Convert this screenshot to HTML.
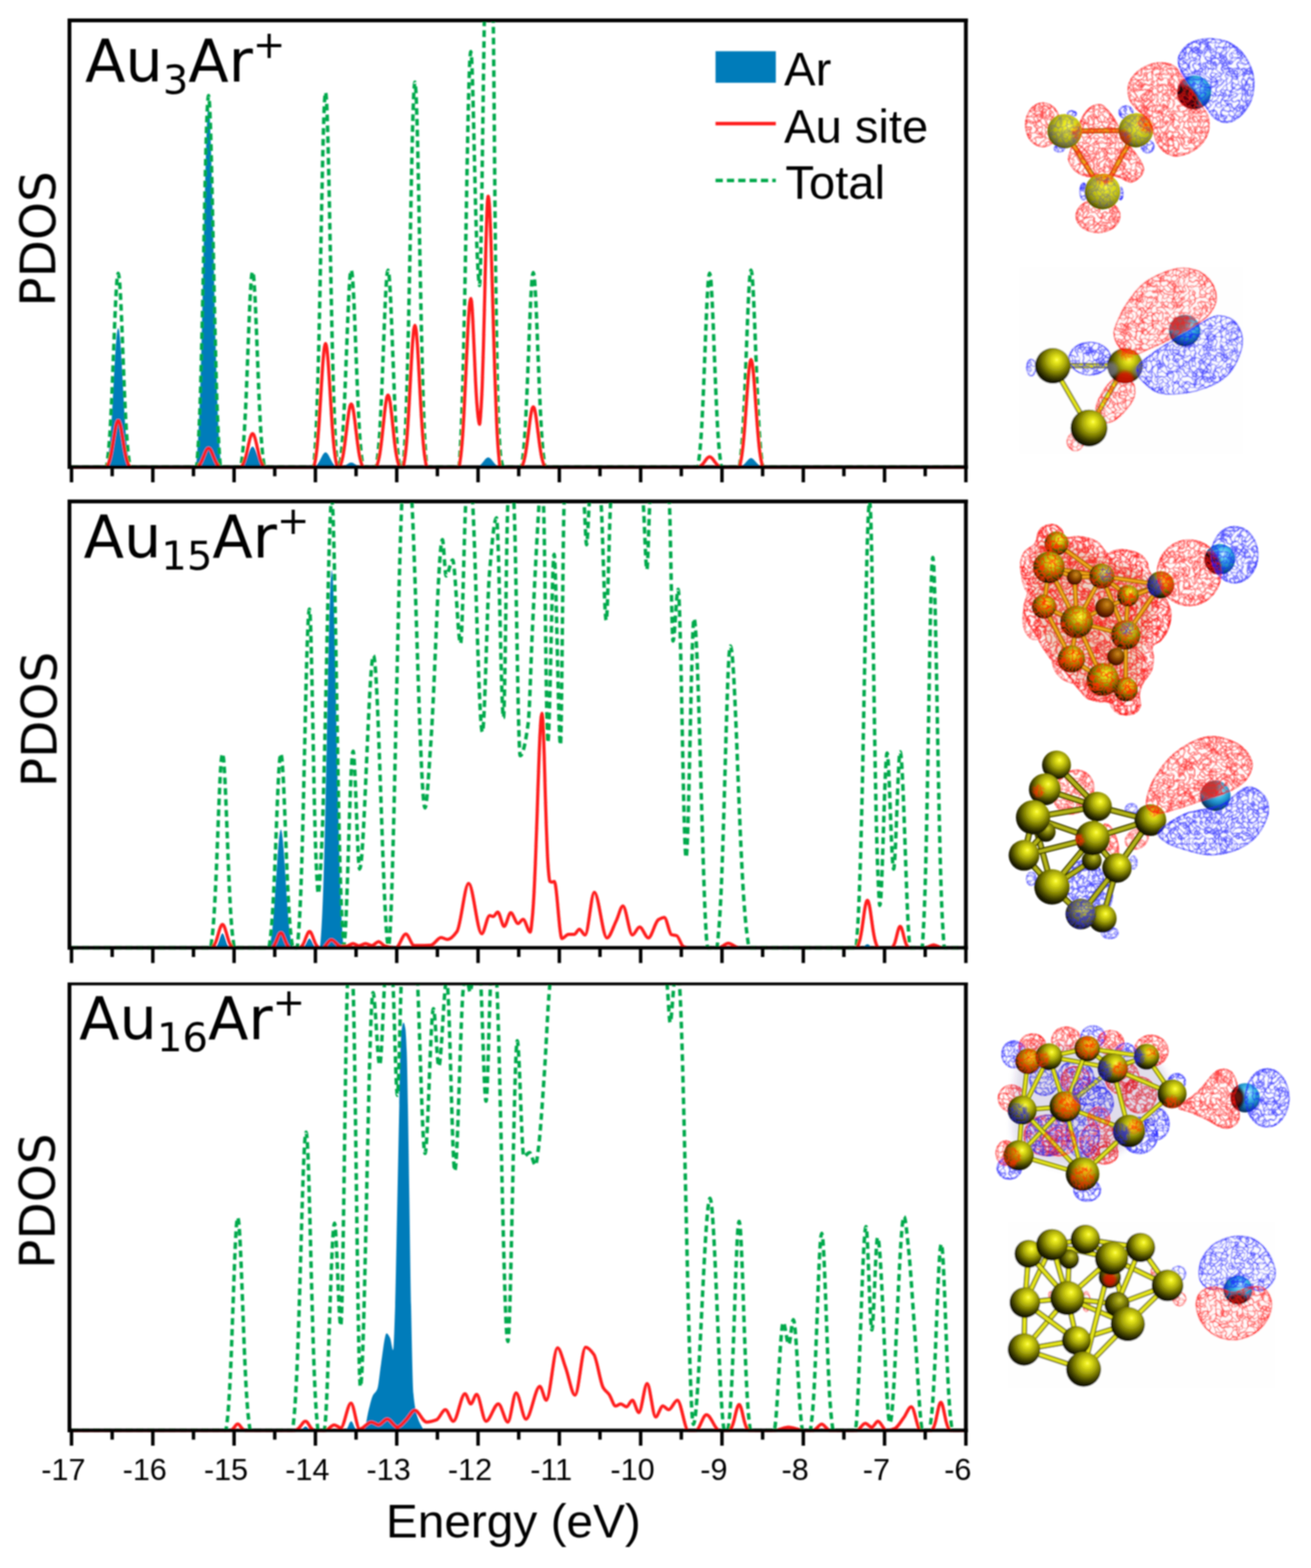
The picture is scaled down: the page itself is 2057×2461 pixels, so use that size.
<!DOCTYPE html>
<html lang="en"><head><meta charset="utf-8"><title>PDOS of AunAr+ clusters</title>
<style>
html,body{margin:0;padding:0;background:#fff}
svg{display:block}
text{font-family:"Liberation Sans",sans-serif;fill:#000}
.ttl{font-family:"DejaVu Sans","Liberation Sans",sans-serif;font-size:92.5px}
.sub{font-size:63px}
.sup{font-size:61px}
.yl{font-family:"DejaVu Sans","Liberation Sans",sans-serif;font-size:76px;text-anchor:middle}
.tk{font-size:48px;text-anchor:middle}
.xl{font-size:75px;text-anchor:middle}
.lg{font-size:74px}
</style></head><body>
<svg width="2057" height="2461" viewBox="0 0 2057 2461">
<defs><filter id="soft" x="-2%" y="-2%" width="104%" height="104%"><feGaussianBlur stdDeviation="1.1"/></filter></defs>
<rect width="2057" height="2461" fill="#fff"/>
<g filter="url(#soft)">
<clipPath id="c1"><rect x="109" y="32" width="1406.5" height="705"/></clipPath>
<g clip-path="url(#c1)">
<path d="M112.2,733L166.5,733C167.4,733 168.4,726.3 169.3,721.1C170.3,715.8 171.2,707.3 172.2,697.6C173.2,687.9 174.1,673.9 175.1,659.5C176,645.1 177,626.3 177.9,609.3C178.7,595.6 179.4,580 180.2,567.5C180.9,555.1 181.7,542 182.5,533.7C183,527.5 183.6,521.1 184.2,518.7C184.6,516.9 185.1,515 185.5,515C185.9,515 186.4,516.9 186.8,518.7C187.4,521.1 188,527.5 188.5,533.7C189.3,542 190.1,555.1 190.8,567.5C191.6,580 192.3,595.6 193.1,609.3C194,626.3 195,645.1 195.9,659.5C196.9,673.9 197.8,687.9 198.8,697.6C199.8,707.3 200.7,715.8 201.7,721.1C202.6,726.3 203.6,733 204.5,733L307,733C308,733 309,715.7 310,702C311,688.3 312.1,666.2 313.1,641.1C314.1,616 315.1,579.7 316.1,542.2C317.1,504.7 318.1,456.1 319.1,411.8C319.9,376.3 320.7,335.7 321.5,303.4C322.4,271.1 323.2,237.1 324,215.6C324.6,199.4 325.2,182.8 325.8,176.6C326.3,171.9 326.7,167 327.2,167C327.7,167 328.1,171.9 328.6,176.6C329.2,182.8 329.8,199.4 330.4,215.6C331.2,237.1 332,271.1 332.9,303.4C333.7,335.7 334.5,376.3 335.3,411.8C336.3,456.1 337.3,504.7 338.3,542.2C339.3,579.7 340.3,616 341.3,641.1C342.3,666.2 343.4,688.3 344.4,702C345.4,715.7 346.4,733 347.4,733L377.3,733C378.2,733 379.2,732 380.2,731.2C381.1,730.5 382.1,729.2 383,727.8C383.9,726.4 384.9,724.3 385.9,722.2C386.8,720.1 387.8,717.3 388.7,714.8C389.5,712.8 390.2,710.5 391,708.7C391.7,706.9 392.5,705 393.3,703.7C393.8,702.8 394.4,701.9 395,701.5C395.4,701.3 395.9,701 396.3,701C396.7,701 397.2,701.3 397.6,701.5C398.2,701.9 398.8,702.8 399.3,703.7C400.1,705 400.9,706.9 401.6,708.7C402.4,710.5 403.1,712.8 403.9,714.8C404.9,717.3 405.8,720.1 406.8,722.2C407.7,724.3 408.7,726.4 409.6,727.8C410.6,729.2 411.5,730.5 412.4,731.2C413.4,732 414.4,733 415.3,733L491.8,733C492.8,733 493.7,732.3 494.7,731.7C495.6,731.2 496.6,730.3 497.5,729.3C498.4,728.2 499.4,726.8 500.4,725.2C501.3,723.7 502.2,721.7 503.2,719.9C504,718.5 504.7,716.9 505.5,715.5C506.2,714.2 507,712.8 507.8,712C508.3,711.3 508.9,710.6 509.5,710.4C509.9,710.2 510.4,710 510.8,710C511.2,710 511.7,710.2 512.1,710.4C512.7,710.6 513.3,711.3 513.8,712C514.6,712.8 515.4,714.2 516.1,715.5C516.9,716.9 517.6,718.5 518.4,719.9C519.4,721.7 520.3,723.7 521.2,725.2C522.2,726.8 523.1,728.2 524.1,729.3C525,730.3 526,731.2 526.9,731.7C527.9,732.3 528.8,733 529.8,733L534,733C534.9,733 535.7,732.8 536.6,732.6C537.4,732.4 538.3,732.2 539.1,731.9C540,731.6 540.8,731.1 541.7,730.6C542.6,730.2 543.4,729.6 544.3,729C544.9,728.6 545.6,728.1 546.3,727.7C547,727.3 547.7,726.9 548.4,726.6C548.9,726.4 549.4,726.2 549.9,726.1C550.3,726.1 550.7,726 551.1,726C551.5,726 551.9,726.1 552.3,726.1C552.8,726.2 553.3,726.4 553.8,726.6C554.5,726.9 555.2,727.3 555.8,727.7C556.5,728.1 557.2,728.6 557.9,729C558.7,729.6 559.5,730.2 560.4,730.6C561.2,731.1 562.1,731.6 562.9,731.9C563.8,732.2 564.6,732.4 565.5,732.6C566.3,732.8 567.2,733 568,733L747,733C748,733 748.9,732.5 749.9,732.2C750.8,731.8 751.8,731.2 752.7,730.6C753.6,729.9 754.6,728.9 755.5,727.9C756.5,726.9 757.4,725.7 758.4,724.5C759.2,723.5 759.9,722.5 760.7,721.6C761.4,720.8 762.2,719.9 763,719.3C763.5,718.9 764.1,718.4 764.7,718.3C765.1,718.1 765.6,718 766,718C766.4,718 766.9,718.1 767.3,718.3C767.9,718.4 768.5,718.9 769,719.3C769.8,719.9 770.6,720.8 771.3,721.6C772.1,722.5 772.8,723.5 773.6,724.5C774.6,725.7 775.5,726.9 776.5,727.9C777.4,728.9 778.4,729.9 779.3,730.6C780.2,731.2 781.2,731.8 782.1,732.2C783.1,732.5 784,733 785,733L1159.4,733C1160.4,733 1161.3,732.6 1162.2,732.2C1163.2,731.9 1164.2,731.3 1165.1,730.7C1166.1,730.1 1167,729.2 1168,728.3C1168.9,727.4 1169.9,726.2 1170.8,725.1C1171.6,724.2 1172.3,723.2 1173.1,722.4C1173.8,721.6 1174.6,720.7 1175.4,720.2C1175.9,719.8 1176.5,719.4 1177.1,719.2C1177.5,719.1 1178,719 1178.4,719C1178.8,719 1179.3,719.1 1179.7,719.2C1180.3,719.4 1180.9,719.8 1181.4,720.2C1182.2,720.7 1183,721.6 1183.7,722.4C1184.5,723.2 1185.2,724.2 1186,725.1C1187,726.2 1187.9,727.4 1188.9,728.3C1189.8,729.2 1190.8,730.1 1191.7,730.7C1192.7,731.3 1193.6,731.9 1194.6,732.2C1195.5,732.6 1196.5,733 1197.4,733L1515.5,733L1515.5,734 L112.2,734 Z" fill="#007cba"/>
<path d="M112.2,733L166.5,733C167.4,733 168.4,723.7 169.3,716.3C170.3,709 171.2,697.1 172.2,683.6C173.2,670.2 174.1,650.7 175.1,630.5C176,610.4 177,584.3 177.9,560.5C178.7,541.4 179.4,519.6 180.2,502.3C180.9,484.9 181.7,466.6 182.5,455.1C183,446.4 183.6,437.5 184.2,434.2C184.6,431.6 185.1,429 185.5,429C185.9,429 186.4,431.6 186.8,434.2C187.4,437.5 188,446.4 188.5,455.1C189.3,466.6 190.1,484.9 190.8,502.3C191.6,519.6 192.3,541.4 193.1,560.5C194,584.3 195,610.4 195.9,630.5C196.9,650.7 197.8,670.2 198.8,683.6C199.8,697.1 200.7,709 201.7,716.3C202.6,723.7 203.6,733 204.5,733L308,733C309,733 309.9,715.2 310.9,701.1C311.8,686.9 312.8,664.2 313.8,638.4C314.7,612.5 315.7,575.1 316.6,536.4C317.6,497.8 318.6,447.8 319.5,402.1C320.3,365.6 321.1,323.8 321.8,290.5C322.6,257.2 323.4,222.2 324.1,200C324.7,183.4 325.3,166.2 325.9,159.9C326.3,155 326.8,150 327.2,150C327.6,150 328.1,155 328.5,159.9C329.1,166.2 329.7,183.4 330.3,200C331,222.2 331.8,257.2 332.6,290.5C333.3,323.8 334.1,365.6 334.9,402.1C335.8,447.8 336.8,497.8 337.8,536.4C338.7,575.1 339.7,612.5 340.6,638.4C341.6,664.2 342.6,686.9 343.5,701.1C344.5,715.2 345.4,733 346.4,733L377.3,733C378.2,733 379.2,723.6 380.2,716.2C381.1,708.8 382.1,696.8 383,683.2C383.9,669.6 384.9,649.9 385.9,629.6C386.8,609.3 387.8,583 388.7,559C389.5,539.8 390.2,517.8 391,500.3C391.7,482.8 392.5,464.4 393.3,452.7C393.8,444 394.4,434.9 395,431.6C395.4,429 395.9,426.4 396.3,426.4C396.7,426.4 397.2,429 397.6,431.6C398.2,434.9 398.8,444 399.3,452.7C400.1,464.4 400.9,482.8 401.6,500.3C402.4,517.8 403.1,539.8 403.9,559C404.9,583 405.8,609.3 406.8,629.6C407.7,649.9 408.7,669.6 409.6,683.2C410.6,696.8 411.5,708.8 412.4,716.2C413.4,723.6 414.4,733 415.3,733L491.8,733C492.8,733 493.7,715 494.7,700.8C495.6,686.5 496.6,663.6 497.5,637.5C498.4,611.4 499.4,573.7 500.4,534.8C501.3,495.8 502.2,445.3 503.2,399.3C504,362.4 504.7,320.3 505.5,286.7C506.2,253.1 507,217.8 507.8,195.5C508.3,178.7 508.9,161.4 509.5,155C509.9,150 510.4,145 510.8,145C511.2,145 511.7,150 512.1,155C512.7,161.4 513.3,178.7 513.8,195.5C514.6,217.8 515.4,253.1 516.1,286.7C516.9,320.3 517.6,362.4 518.4,399.3C519.4,445.3 520.3,495.8 521.2,534.8C522.2,573.7 523.1,611.4 524.1,637.5C525,663.6 526,686.5 526.9,700.8C527.9,715 528.8,733 529.8,733L532.1,733C533.1,733 534,723.5 535,716.1C535.9,708.6 536.9,696.6 537.8,682.8C538.8,669.1 539.7,649.3 540.6,628.8C541.6,608.3 542.5,581.8 543.5,557.6C544.3,538.3 545,516.1 545.8,498.5C546.5,480.8 547.3,462.2 548.1,450.5C548.6,441.7 549.2,432.6 549.8,429.3C550.2,426.7 550.7,424 551.1,424C551.5,424 552,426.7 552.4,429.3C553,432.6 553.6,441.7 554.1,450.5C554.9,462.2 555.7,480.8 556.4,498.5C557.2,516.1 557.9,538.3 558.7,557.6C559.7,581.8 560.6,608.3 561.6,628.8C562.5,649.3 563.5,669.1 564.4,682.8C565.4,696.6 566.3,708.6 567.2,716.1C568.2,723.5 569.1,733 570.1,733L589.8,733C590.8,733 591.7,723.5 592.6,716.1C593.6,708.6 594.5,696.6 595.5,682.8C596.4,669.1 597.4,649.3 598.3,628.8C599.3,608.3 600.2,581.8 601.2,557.6C602,538.3 602.7,516.1 603.5,498.5C604.2,480.8 605,462.2 605.8,450.5C606.3,441.7 606.9,432.6 607.5,429.3C607.9,426.7 608.4,424 608.8,424C609.2,424 609.7,426.7 610.1,429.3C610.7,432.6 611.3,441.7 611.8,450.5C612.6,462.2 613.4,480.8 614.1,498.5C614.9,516.1 615.6,538.3 616.4,557.6C617.4,581.8 618.3,608.3 619.2,628.8C620.2,649.3 621.1,669.1 622.1,682.8C623,696.6 624,708.6 624.9,716.1C625.9,723.5 626.8,733 627.8,733L632,733C633,733 633.9,714.5 634.9,699.9C635.8,685.3 636.8,661.8 637.7,634.9C638.6,608.1 639.6,569.4 640.5,529.4C641.5,489.3 642.4,437.5 643.4,390.2C644.2,352.4 644.9,309.1 645.7,274.6C646.4,240 647.2,203.8 648,180.8C648.5,163.6 649.1,145.8 649.7,139.3C650.1,134.2 650.6,129 651,129C651.4,129 651.9,134.2 652.3,139.3C652.9,145.8 653.5,163.6 654,180.8C654.8,203.8 655.6,240 656.3,274.6C657.1,309.1 657.8,352.4 658.6,390.2C659.6,437.5 660.5,489.3 661.5,529.4C662.4,569.4 663.4,608.1 664.3,634.9C665.2,661.8 666.2,685.3 667.1,699.9C668.1,714.5 669,733 670,733L719.7,733C720.7,733 721.6,713 722.6,697.3C723.5,681.5 724.5,656.1 725.4,627.2C726.4,598.2 727.3,556.4 728.2,513.2C729.2,470 730.1,414 731.1,363C731.9,322.1 732.6,275.4 733.4,238.1C734.1,200.9 734.9,161.7 735.7,136.9C736.2,118.4 736.8,99.1 737.4,92.1C737.8,86.6 738.3,81 738.7,81C739,81 739.3,84.2 739.7,87.2C740.1,91.2 740.5,102 740.9,112.5C741.4,126.4 742,148.5 742.5,169.4C743.1,190.4 743.6,216.7 744.2,239.7C744.9,268.4 745.6,299.9 746.2,324.3C746.9,348.6 747.6,372.1 748.3,388.4C749,404.7 749.7,419 750.3,427.9C751,436.8 751.7,448 752.4,448C754.9,448 757.4,180.1 759.9,35C762.3,-102.3 764.6,-400 767,-400C769.3,-400 771.7,-150.8 774,35C775.3,141.2 776.7,359.2 778,451C779.3,542.8 780.7,625.2 782,657C783.3,688.8 784.7,711.4 786,719C787.3,726.6 788.7,733 790,733L817.7,733C818.7,733 819.6,723.7 820.6,716.3C821.5,708.9 822.5,697 823.4,683.4C824.4,669.9 825.3,650.3 826.2,630C827.2,609.8 828.1,583.6 829.1,559.7C829.9,540.5 830.6,518.6 831.4,501.2C832.1,483.7 832.9,465.4 833.7,453.8C834.2,445.1 834.8,436.1 835.4,432.8C835.8,430.2 836.3,427.6 836.7,427.6C837.1,427.6 837.6,430.2 838,432.8C838.6,436.1 839.2,445.1 839.7,453.8C840.5,465.4 841.3,483.7 842,501.2C842.8,518.6 843.5,540.5 844.3,559.7C845.3,583.6 846.2,609.8 847.2,630C848.1,650.3 849.1,669.9 850,683.4C851,697 851.9,708.9 852.9,716.3C853.8,723.7 854.8,733 855.7,733L1094.4,733C1095.4,733 1096.3,723.7 1097.2,716.3C1098.2,709 1099.2,697.1 1100.1,683.6C1101.1,670.1 1102,650.6 1103,630.4C1103.9,610.2 1104.9,584.1 1105.8,560.3C1106.6,541.2 1107.3,519.4 1108.1,502C1108.8,484.6 1109.6,466.4 1110.4,454.8C1110.9,446.1 1111.5,437.2 1112.1,433.9C1112.5,431.3 1113,428.7 1113.4,428.7C1113.8,428.7 1114.3,431.3 1114.7,433.9C1115.3,437.2 1115.9,446.1 1116.4,454.8C1117.2,466.4 1118,484.6 1118.7,502C1119.5,519.4 1120.2,541.2 1121,560.3C1122,584.1 1122.9,610.2 1123.9,630.4C1124.8,650.6 1125.8,670.1 1126.7,683.6C1127.7,697.1 1128.6,709 1129.6,716.3C1130.5,723.7 1131.5,733 1132.4,733L1159.4,733C1160.4,733 1161.3,723.5 1162.2,716.1C1163.2,708.6 1164.2,696.6 1165.1,682.8C1166.1,669.1 1167,649.3 1168,628.8C1168.9,608.3 1169.9,581.8 1170.8,557.6C1171.6,538.3 1172.3,516.1 1173.1,498.5C1173.8,480.8 1174.6,462.2 1175.4,450.5C1175.9,441.7 1176.5,432.6 1177.1,429.3C1177.5,426.7 1178,424 1178.4,424C1178.8,424 1179.3,426.7 1179.7,429.3C1180.3,432.6 1180.9,441.7 1181.4,450.5C1182.2,462.2 1183,480.8 1183.7,498.5C1184.5,516.1 1185.2,538.3 1186,557.6C1187,581.8 1187.9,608.3 1188.9,628.8C1189.8,649.3 1190.8,669.1 1191.7,682.8C1192.7,696.6 1193.6,708.6 1194.6,716.1C1195.5,723.5 1196.5,733 1197.4,733L1515.5,733" fill="none" stroke="#06a94c" stroke-width="5.4" stroke-dasharray="10.5 6.5" stroke-linejoin="round"/>
<path d="M112.2,733.4L166.5,733.4C167.4,733.4 168.4,731.2 169.3,729.4C170.3,727.6 171.2,724.7 172.2,721.5C173.2,718.2 174.1,713.5 175.1,708.7C176,703.8 177,697.5 177.9,691.7C178.7,687.1 179.4,681.9 180.2,677.7C180.9,673.5 181.7,669.1 182.5,666.3C183,664.2 183.6,662 184.2,661.2C184.6,660.6 185.1,660 185.5,660C185.9,660 186.4,660.6 186.8,661.2C187.4,662 188,664.2 188.5,666.3C189.3,669.1 190.1,673.5 190.8,677.7C191.6,681.9 192.3,687.1 193.1,691.7C194,697.5 195,703.8 195.9,708.7C196.9,713.5 197.8,718.2 198.8,721.5C199.8,724.7 200.7,727.6 201.7,729.4C202.6,731.2 203.6,733.4 204.5,733.4L308,733.4C309,733.4 309.9,732.5 310.9,731.8C311.8,731 312.8,729.9 313.8,728.5C314.7,727.2 315.7,725.3 316.6,723.3C317.6,721.3 318.6,718.7 319.5,716.4C320.3,714.5 321.1,712.3 321.8,710.6C322.6,708.9 323.4,707.1 324.1,706C324.7,705.1 325.3,704.2 325.9,703.9C326.3,703.7 326.8,703.4 327.2,703.4C327.6,703.4 328.1,703.7 328.5,703.9C329.1,704.2 329.7,705.1 330.3,706C331,707.1 331.8,708.9 332.6,710.6C333.3,712.3 334.1,714.5 334.9,716.4C335.8,718.7 336.8,721.3 337.8,723.3C338.7,725.3 339.7,727.2 340.6,728.5C341.6,729.9 342.6,731 343.5,731.8C344.5,732.5 345.4,733.4 346.4,733.4L377.3,733.4C378.2,733.4 379.2,731.8 380.2,730.5C381.1,729.2 382.1,727.2 383,724.8C383.9,722.5 384.9,719.1 385.9,715.6C386.8,712.1 387.8,707.6 388.7,703.4C389.5,700.1 390.2,696.3 391,693.3C391.7,690.3 392.5,687.1 393.3,685.1C393.8,683.6 394.4,682.1 395,681.5C395.4,681.1 395.9,680.6 396.3,680.6C396.7,680.6 397.2,681.1 397.6,681.5C398.2,682.1 398.8,683.6 399.3,685.1C400.1,687.1 400.9,690.3 401.6,693.3C402.4,696.3 403.1,700.1 403.9,703.4C404.9,707.6 405.8,712.1 406.8,715.6C407.7,719.1 408.7,722.5 409.6,724.8C410.6,727.2 411.5,729.2 412.4,730.5C413.4,731.8 414.4,733.4 415.3,733.4L491.8,733.4C492.8,733.4 493.7,727.5 494.7,722.8C495.6,718.1 496.6,710.5 497.5,701.9C498.4,693.3 499.4,680.8 500.4,668C501.3,655.1 502.2,638.4 503.2,623.2C504,611.1 504.7,597.2 505.5,586.1C506.2,575 507,563.3 507.8,556C508.3,550.4 508.9,544.7 509.5,542.6C509.9,541 510.4,539.3 510.8,539.3C511.2,539.3 511.7,541 512.1,542.6C512.7,544.7 513.3,550.4 513.8,556C514.6,563.3 515.4,575 516.1,586.1C516.9,597.2 517.6,611.1 518.4,623.2C519.4,638.4 520.3,655.1 521.2,668C522.2,680.8 523.1,693.3 524.1,701.9C525,710.5 526,718.1 526.9,722.8C527.9,727.5 528.8,733.4 529.8,733.4L532.1,733.4C533.1,733.4 534,730.4 535,728C535.9,725.5 536.9,721.7 537.8,717.3C538.8,712.9 539.7,706.5 540.6,699.9C541.6,693.3 542.5,684.8 543.5,677C544.3,670.8 545,663.6 545.8,658C546.5,652.3 547.3,646.3 548.1,642.5C548.6,639.7 549.2,636.8 549.8,635.7C550.2,634.9 550.7,634 551.1,634C551.5,634 552,634.9 552.4,635.7C553,636.8 553.6,639.7 554.1,642.5C554.9,646.3 555.7,652.3 556.4,658C557.2,663.6 557.9,670.8 558.7,677C559.7,684.8 560.6,693.3 561.6,699.9C562.5,706.5 563.5,712.9 564.4,717.3C565.4,721.7 566.3,725.5 567.2,728C568.2,730.4 569.1,733.4 570.1,733.4L589.8,733.4C590.8,733.4 591.7,729.9 592.6,727.2C593.6,724.4 594.5,720 595.5,715C596.4,710 597.4,702.7 598.3,695.2C599.3,687.7 600.2,677.9 601.2,669C602,661.9 602.7,653.8 603.5,647.3C604.2,640.8 605,634 605.8,629.7C606.3,626.5 606.9,623.2 607.5,621.9C607.9,621 608.4,620 608.8,620C609.2,620 609.7,621 610.1,621.9C610.7,623.2 611.3,626.5 611.8,629.7C612.6,634 613.4,640.8 614.1,647.3C614.9,653.8 615.6,661.9 616.4,669C617.4,677.9 618.3,687.7 619.2,695.2C620.2,702.7 621.1,710 622.1,715C623,720 624,724.4 624.9,727.2C625.9,729.9 626.8,733.4 627.8,733.4L632,733.4C633,733.4 633.9,726.6 634.9,721.2C635.8,715.8 636.8,707.1 637.7,697.3C638.6,687.4 639.6,673.1 640.5,658.4C641.5,643.6 642.4,624.5 643.4,607.1C644.2,593.1 644.9,577.2 645.7,564.4C646.4,551.7 647.2,538.4 648,529.9C648.5,523.6 649.1,517 649.7,514.6C650.1,512.7 650.6,510.8 651,510.8C651.4,510.8 651.9,512.7 652.3,514.6C652.9,517 653.5,523.6 654,529.9C654.8,538.4 655.6,551.7 656.3,564.4C657.1,577.2 657.8,593.1 658.6,607.1C659.6,624.5 660.5,643.6 661.5,658.4C662.4,673.1 663.4,687.4 664.3,697.3C665.2,707.1 666.2,715.8 667.1,721.2C668.1,726.6 669,733.4 670,733.4L719.7,733.4C720.7,733.4 721.6,725.3 722.6,718.9C723.5,712.5 724.5,702.2 725.4,690.4C726.4,678.7 727.3,661.7 728.2,644.1C729.2,626.6 730.1,603.8 731.1,583.1C731.9,566.5 732.6,547.5 733.4,532.4C734.1,517.3 734.9,501.4 735.7,491.3C736.2,483.8 736.8,476 737.4,473.1C737.8,470.9 738.3,468.6 738.7,468.6C739,468.6 739.3,470.3 739.7,472C740.1,474.1 740.5,479.9 740.9,485.5C741.4,493 742,504.9 742.5,516.2C743.1,527.5 743.6,541.6 744.2,554C744.9,569.4 745.6,586.4 746.2,599.4C746.9,612.5 747.6,625.2 748.3,634C749,642.7 749.7,650.4 750.3,655.2C751,660 751.7,666 752.4,666C753.1,666 753.8,655 754.4,646.4C755.1,637.7 755.8,623.8 756.5,607.9C757.2,592 757.8,569 758.5,545.3C759.2,521.6 759.9,490.9 760.6,462.8C761.1,440.4 761.6,414.7 762.2,394.3C762.7,373.8 763.3,352.3 763.8,338.7C764.2,328.5 764.6,318 765,314.1C765.4,311.1 765.7,308 766,308C766.4,308 766.9,311.7 767.3,315.2C767.9,319.8 768.5,332.4 769,344.5C769.8,360.7 770.6,386.2 771.3,410.5C772.1,434.8 772.8,465.3 773.6,492C774.6,525.3 775.5,561.8 776.5,590C777.4,618.2 778.4,645.5 779.3,664.3C780.2,683.2 781.2,699.8 782.1,710.1C783.1,720.4 784,733.4 785,733.4L817.7,733.4C818.7,733.4 819.6,730.5 820.6,728.2C821.5,725.9 822.5,722.2 823.4,718C824.4,713.8 825.3,707.7 826.2,701.4C827.2,695.1 828.1,686.9 829.1,679.5C829.9,673.5 830.6,666.7 831.4,661.3C832.1,655.9 832.9,650.2 833.7,646.6C834.2,643.8 834.8,641 835.4,640C835.8,639.2 836.3,638.4 836.7,638.4C837.1,638.4 837.6,639.2 838,640C838.6,641 839.2,643.8 839.7,646.6C840.5,650.2 841.3,655.9 842,661.3C842.8,666.7 843.5,673.5 844.3,679.5C845.3,686.9 846.2,695.1 847.2,701.4C848.1,707.7 849.1,713.8 850,718C851,722.2 851.9,725.9 852.9,728.2C853.8,730.5 854.8,733.4 855.7,733.4L1094.4,733.4C1095.4,733.4 1096.3,732.9 1097.2,732.5C1098.2,732.1 1099.2,731.5 1100.1,730.7C1101.1,730 1102,729 1103,727.9C1103.9,726.8 1104.9,725.4 1105.8,724.1C1106.6,723.1 1107.3,721.9 1108.1,721C1108.8,720 1109.6,719 1110.4,718.4C1110.9,717.9 1111.5,717.5 1112.1,717.3C1112.5,717.1 1113,717 1113.4,717C1113.8,717 1114.3,717.1 1114.7,717.3C1115.3,717.5 1115.9,717.9 1116.4,718.4C1117.2,719 1118,720 1118.7,721C1119.5,721.9 1120.2,723.1 1121,724.1C1122,725.4 1122.9,726.8 1123.9,727.9C1124.8,729 1125.8,730 1126.7,730.7C1127.7,731.5 1128.6,732.1 1129.6,732.5C1130.5,732.9 1131.5,733.4 1132.4,733.4L1159.4,733.4C1160.4,733.4 1161.3,728.2 1162.2,724.1C1163.2,720 1164.2,713.5 1165.1,705.9C1166.1,698.4 1167,687.6 1168,676.4C1168.9,665.2 1169.9,650.7 1170.8,637.4C1171.6,626.8 1172.3,614.7 1173.1,605.1C1173.8,595.4 1174.6,585.2 1175.4,578.8C1175.9,574 1176.5,569 1177.1,567.2C1177.5,565.8 1178,564.3 1178.4,564.3C1178.8,564.3 1179.3,565.8 1179.7,567.2C1180.3,569 1180.9,574 1181.4,578.8C1182.2,585.2 1183,595.4 1183.7,605.1C1184.5,614.7 1185.2,626.8 1186,637.4C1187,650.7 1187.9,665.2 1188.9,676.4C1189.8,687.6 1190.8,698.4 1191.7,705.9C1192.7,713.5 1193.6,720 1194.6,724.1C1195.5,728.2 1196.5,733.4 1197.4,733.4L1515.5,733.4" fill="none" stroke="#ff1c1c" stroke-width="5" stroke-linejoin="round"/>
</g>
<clipPath id="c2"><rect x="109" y="787" width="1406.5" height="704.5"/></clipPath>
<g clip-path="url(#c2)">
<path d="M112.2,1487.5L337,1487.5C337.6,1487.5 338.2,1486.8 338.8,1486.3C339.4,1485.7 340,1484.8 340.6,1483.8C341.2,1482.8 341.8,1481.4 342.4,1479.9C343.1,1478.4 343.7,1476.5 344.3,1474.7C344.7,1473.3 345.2,1471.7 345.7,1470.4C346.2,1469.1 346.7,1467.8 347.2,1466.9C347.5,1466.3 347.9,1465.6 348.3,1465.4C348.5,1465.2 348.8,1465 349.1,1465C349.4,1465 349.7,1465.2 349.9,1465.4C350.3,1465.6 350.6,1466.3 351,1466.9C351.5,1467.8 352,1469.1 352.4,1470.4C352.9,1471.7 353.4,1473.3 353.9,1474.7C354.5,1476.5 355.1,1478.4 355.6,1479.9C356.2,1481.4 356.8,1482.8 357.4,1483.8C358,1484.8 358.6,1485.7 359.2,1486.3C359.8,1486.8 360.4,1487.5 361,1487.5L421.7,1487.5C422.6,1487.5 423.6,1481.8 424.6,1477.3C425.5,1472.8 426.4,1465.6 427.4,1457.4C428.3,1449.2 429.3,1437.3 430.2,1425C431.2,1412.7 432.1,1396.7 433.1,1382.2C433.9,1370.6 434.6,1357.3 435.4,1346.7C436.1,1336.1 436.9,1325 437.7,1317.9C438.2,1312.6 438.8,1307.2 439.4,1305.2C439.8,1303.6 440.3,1302 440.7,1302C441.1,1302 441.6,1303.6 442,1305.2C442.6,1307.2 443.2,1312.6 443.7,1317.9C444.5,1325 445.3,1336.1 446,1346.7C446.8,1357.3 447.5,1370.6 448.3,1382.2C449.2,1396.7 450.2,1412.7 451.1,1425C452.1,1437.3 453.1,1449.2 454,1457.4C454.9,1465.6 455.9,1472.8 456.8,1477.3C457.8,1481.8 458.8,1487.5 459.7,1487.5L474,1487.5C474.6,1487.5 475.2,1487.1 475.7,1486.7C476.3,1486.4 476.9,1485.8 477.4,1485.1C478,1484.5 478.6,1483.6 479.2,1482.6C479.8,1481.7 480.3,1480.4 480.9,1479.3C481.4,1478.4 481.8,1477.3 482.3,1476.5C482.7,1475.7 483.2,1474.8 483.7,1474.2C484,1473.8 484.4,1473.4 484.7,1473.2C485,1473.1 485.2,1473 485.5,1473C485.8,1473 486,1473.1 486.3,1473.2C486.6,1473.4 487,1473.8 487.3,1474.2C487.8,1474.8 488.3,1475.7 488.7,1476.5C489.2,1477.3 489.6,1478.4 490.1,1479.3C490.7,1480.4 491.2,1481.7 491.8,1482.6C492.4,1483.6 493,1484.5 493.6,1485.1C494.1,1485.8 494.7,1486.4 495.3,1486.7C495.8,1487.1 496.4,1487.5 497,1487.5L501.6,1487.5C502.6,1487.5 503.5,1469.4 504.5,1455C505.4,1440.7 506.4,1417.6 507.3,1391.3C508.2,1365 509.2,1327 510.2,1287.7C511.1,1248.5 512,1197.6 513,1151.2C513.8,1114.1 514.5,1071.6 515.3,1037.8C516,1003.9 516.8,968.3 517.6,945.8C518.1,929 518.7,911.5 519.3,905.1C519.7,900.1 520.2,895 520.6,895C521,895 521.5,900.1 521.9,905.1C522.5,911.5 523.1,929 523.6,945.8C524.4,968.3 525.2,1003.9 525.9,1037.8C526.7,1071.6 527.4,1114.1 528.2,1151.2C529.2,1197.6 530.1,1248.5 531.1,1287.7C532,1327 533,1365 533.9,1391.3C534.9,1417.6 535.8,1440.7 536.8,1455C537.7,1469.4 538.6,1487.5 539.6,1487.5L1351,1487.5C1351.5,1487.5 1352,1487.3 1352.5,1487.2C1353,1487.1 1353.5,1486.9 1354,1486.6C1354.5,1486.4 1355,1486 1355.5,1485.6C1356,1485.3 1356.5,1484.8 1357,1484.4C1357.4,1484 1357.8,1483.6 1358.2,1483.3C1358.6,1483 1359,1482.7 1359.4,1482.5C1359.7,1482.3 1360,1482.2 1360.3,1482.1C1360.5,1482 1360.8,1482 1361,1482C1361.2,1482 1361.5,1482 1361.7,1482.1C1362,1482.2 1362.3,1482.3 1362.6,1482.5C1363,1482.7 1363.4,1483 1363.8,1483.3C1364.2,1483.6 1364.6,1484 1365,1484.4C1365.5,1484.8 1366,1485.3 1366.5,1485.6C1367,1486 1367.5,1486.4 1368,1486.6C1368.5,1486.9 1369,1487.1 1369.5,1487.2C1370,1487.3 1370.5,1487.5 1371,1487.5L1515.5,1487.5L1515.5,1488.5 L112.2,1488.5 Z" fill="#007cba"/>
<path d="M112.2,1487.5L330,1487.5C331,1487.5 331.9,1478.2 332.9,1470.8C333.8,1463.4 334.8,1451.6 335.7,1438.1C336.7,1424.6 337.6,1405 338.6,1384.8C339.6,1364.7 340.5,1338.5 341.5,1314.7C342.2,1295.6 343,1273.8 343.8,1256.4C344.5,1239 345.3,1220.7 346,1209.1C346.6,1200.5 347.2,1191.5 347.8,1188.2C348.2,1185.6 348.7,1183 349.1,1183C349.5,1183 350,1185.6 350.4,1188.2C351,1191.5 351.6,1200.5 352.1,1209.1C352.9,1220.7 353.6,1239 354.4,1256.4C355.1,1273.8 355.9,1295.6 356.7,1314.7C357.6,1338.5 358.6,1364.7 359.5,1384.8C360.4,1405 361.4,1424.6 362.3,1438.1C363.3,1451.6 364.2,1463.4 365.2,1470.8C366.1,1478.2 367.1,1487.5 368,1487.5L421.5,1487.5C422.5,1487.5 423.4,1478.2 424.4,1470.8C425.3,1463.4 426.3,1451.6 427.3,1438.1C428.2,1424.6 429.2,1405 430.1,1384.8C431.1,1364.7 432.1,1338.5 433,1314.7C433.8,1295.6 434.6,1273.8 435.3,1256.4C436.1,1239 436.9,1220.7 437.6,1209.1C438.2,1200.5 438.8,1191.5 439.4,1188.2C439.8,1185.6 440.3,1183 440.7,1183C441.1,1183 441.6,1185.6 442,1188.2C442.6,1191.5 443.2,1200.5 443.7,1209.1C444.5,1220.7 445.3,1239 446,1256.4C446.8,1273.8 447.5,1295.6 448.3,1314.7C449.2,1338.5 450.2,1364.7 451.1,1384.8C452.1,1405 453.1,1424.6 454,1438.1C454.9,1451.6 455.9,1463.4 456.8,1470.8C457.8,1478.2 458.8,1487.5 459.7,1487.5L466,1487.5C467,1487.5 467.9,1471.2 468.9,1458.4C469.9,1445.5 470.9,1424.8 471.9,1401.2C472.8,1377.6 473.8,1343.5 474.8,1308.3C475.8,1273.1 476.7,1227.5 477.7,1185.8C478.5,1152.5 479.3,1114.5 480,1084.1C480.8,1053.7 481.6,1021.8 482.4,1001.6C483,986.5 483.6,970.8 484.1,965C484.6,960.6 485,956 485.5,956C485.8,956 486.1,959.8 486.5,963.6C486.9,968.4 487.3,981.6 487.7,994.3C488.3,1011.3 488.8,1038.1 489.4,1063.6C489.9,1089.1 490.5,1121.1 491.1,1149.1C491.8,1184.1 492.4,1222.4 493.1,1252C493.8,1281.6 494.5,1310.3 495.2,1330.1C495.9,1349.9 496.6,1367.3 497.3,1378.1C498,1388.9 498.7,1402.6 499.4,1402.6C500.5,1402.6 501.5,1383.7 502.6,1368.8C503.6,1353.8 504.7,1329.8 505.8,1302.3C506.8,1274.9 507.9,1235.3 508.9,1194.4C510,1153.5 511.1,1100.4 512.1,1052.1C513,1013.4 513.8,969.1 514.7,933.8C515.5,898.5 516.4,861.4 517.2,838C517.8,820.4 518.5,802.2 519.1,795.5C519.6,790.3 520.1,785 520.6,785C521,785 521.5,791 521.9,796.9C522.5,804.5 523.1,825.1 523.6,845C524.4,871.5 525.1,913.5 525.9,953.5C526.6,993.4 527.4,1043.5 528.2,1087.3C529.1,1142 530,1202 531,1248.3C531.9,1294.7 532.9,1339.5 533.8,1370.5C534.8,1401.5 535.7,1428.8 536.7,1445.7C537.6,1462.6 538.6,1484 539.5,1484C544.3,1484 549.2,1179 554,1179C557.4,1179 560.9,1364 564.3,1364C571.5,1364 578.8,1029 586,1029C593.8,1029 601.7,1484 609.5,1484C616.5,1484 623.4,942.6 630.4,790C633.1,731.6 635.7,650 638.4,650C641.1,650 643.7,737.8 646.4,790C653.2,923.8 660.1,1268 666.9,1268C669.9,1268 673,1205.7 676,1165C682.1,1083.6 688.1,847 694.2,847C696.1,847 698.1,904 700,904C703.4,904 706.8,879 710.2,879C714.4,879 718.5,1010 722.7,1010C725.4,1010 728,842.7 730.7,790C732.6,752.5 734.5,700 736.4,700C738.2,700 739.9,756 741.7,790C746.8,887.5 751.8,1149 756.9,1149C760.6,1149 764.3,943.3 768,900C771.7,857.1 775.3,812.8 779,812.8C782.7,812.8 786.3,1126.5 790,1126.5C792.3,1126.5 794.5,840.3 796.8,790C798.4,755.3 799.9,720 801.5,720C803.1,720 804.8,757.3 806.4,790C809.7,855.5 812.9,1186 816.2,1186C820.4,1186 824.5,1166.1 828.7,1135.6C831,1119 833.2,1031.5 835.5,985C838.9,914.5 842.4,845.7 845.8,790C846.9,771.6 848.1,740 849.2,740C850.4,740 851.5,765.1 852.7,790C855,838.4 857.2,1165.6 859.5,1165.6C862.8,1165.6 866.1,870 869.4,870C872.7,870 876.1,1169 879.4,1169C881.3,1169 883.2,835.2 885.1,790C890.1,671.8 895,600 900,600C905.5,600 911,712.2 916.5,790C917.8,808.4 919.1,855 920.4,855C921.8,855 923.1,811 924.5,790C927.7,741.4 930.8,650 934,650C937.1,650 940.1,733.6 943.2,790C945.9,839 948.5,973.7 951.2,973.7C953.5,973.7 955.7,829.8 958,790C966.3,643.6 974.7,500 983,500C991.8,500 1000.5,662.8 1009.3,790C1011.2,817.6 1013.1,894 1015,894C1016.5,894 1018,815.5 1019.5,790C1024.7,702.3 1029.8,600 1035,600C1040.1,600 1045.2,686.6 1050.3,790C1052.2,828.5 1054.1,1006 1056,1006C1058.7,1006 1061.3,925 1064,925C1068.2,925 1072.3,1345.6 1076.5,1345.6C1080.7,1345.6 1084.8,971 1089,971C1096.2,971 1103.5,1487.5 1110.7,1487.5L1124.4,1487.5C1125.5,1487.5 1126.6,1473 1127.6,1461.6C1128.7,1450.1 1129.8,1431.6 1130.9,1410.6C1132,1389.6 1133,1359.2 1134.1,1327.9C1135.2,1296.5 1136.3,1255.8 1137.4,1218.8C1138.2,1189.1 1139.1,1155.2 1140,1128.1C1140.8,1101.1 1141.7,1072.6 1142.5,1054.6C1143.2,1041.1 1143.8,1027.2 1144.5,1022.1C1145,1018.1 1145.5,1014 1146,1014C1146.7,1014 1147.4,1018.1 1148.1,1022.1C1149,1027.2 1149.9,1041.1 1150.8,1054.6C1152,1072.6 1153.2,1101.1 1154.4,1128.1C1155.6,1155.2 1156.8,1189.1 1158,1218.8C1159.5,1255.8 1161,1296.5 1162.5,1327.9C1164,1359.2 1165.5,1389.6 1167,1410.6C1168.5,1431.6 1170,1450.1 1171.5,1461.6C1173,1473 1174.5,1487.5 1176,1487.5L1342.8,1487.5C1343.9,1487.5 1345,1466.1 1346.1,1449.1C1347.1,1432.2 1348.2,1404.9 1349.3,1373.8C1350.4,1342.7 1351.5,1297.7 1352.6,1251.3C1353.7,1204.9 1354.7,1144.8 1355.8,1089.9C1356.7,1046 1357.6,995.8 1358.4,955.8C1359.3,915.8 1360.2,873.7 1361,847.1C1361.7,827.2 1362.3,806.5 1363,798.9C1363.5,793 1364,787 1364.5,787C1364.9,787 1365.2,792.4 1365.6,797.8C1366.1,804.6 1366.6,823.3 1367.1,841.4C1367.7,865.5 1368.3,903.6 1369,939.8C1369.6,976 1370.3,1021.4 1370.9,1061.2C1371.7,1110.8 1372.5,1165.2 1373.3,1207.3C1374.1,1249.3 1374.9,1289.9 1375.7,1318.1C1376.5,1346.2 1377.3,1370.9 1378.1,1386.3C1378.9,1401.6 1379.7,1421 1380.5,1421C1384.3,1421 1388.1,1182 1391.9,1182C1395.3,1182 1398.7,1364 1402.1,1364C1405.5,1364 1409,1180 1412.4,1180C1417.7,1180 1423,1487.5 1428.3,1487.5L1446.6,1487.5C1447.4,1487.5 1448.3,1468.8 1449.1,1453.9C1450,1439.1 1450.8,1415.3 1451.7,1388.1C1452.5,1360.9 1453.4,1321.6 1454.2,1281C1455.1,1240.4 1456,1187.8 1456.8,1139.9C1457.5,1101.5 1458.2,1057.6 1458.8,1022.6C1459.5,987.6 1460.2,950.8 1460.9,927.6C1461.4,910.1 1461.9,892 1462.4,885.4C1462.8,880.3 1463.2,875 1463.6,875C1464,875 1464.5,880.3 1464.9,885.4C1465.4,892 1466,910.1 1466.5,927.6C1467.3,950.8 1468,987.6 1468.7,1022.6C1469.5,1057.6 1470.2,1101.5 1470.9,1139.9C1471.8,1187.8 1472.8,1240.4 1473.7,1281C1474.6,1321.6 1475.5,1360.9 1476.4,1388.1C1477.3,1415.3 1478.2,1439.1 1479.2,1453.9C1480.1,1468.8 1481,1487.5 1481.9,1487.5L1515.5,1487.5" fill="none" stroke="#06a94c" stroke-width="5.4" stroke-dasharray="10.5 6.5" stroke-linejoin="round"/>
<path d="M112.2,1487.6L332,1487.6C332.9,1487.6 333.7,1486.5 334.6,1485.6C335.4,1484.7 336.3,1483.3 337.1,1481.7C338,1480 338.8,1477.7 339.7,1475.3C340.6,1472.8 341.4,1469.7 342.3,1466.8C342.9,1464.5 343.6,1461.9 344.3,1459.8C345,1457.7 345.7,1455.5 346.4,1454.1C346.9,1453.1 347.4,1452 347.9,1451.6C348.3,1451.3 348.7,1451 349.1,1451C349.5,1451 349.9,1451.3 350.3,1451.6C350.8,1452 351.3,1453.1 351.8,1454.1C352.5,1455.5 353.2,1457.7 353.8,1459.8C354.5,1461.9 355.2,1464.5 355.9,1466.8C356.7,1469.7 357.6,1472.8 358.4,1475.3C359.2,1477.7 360.1,1480 360.9,1481.7C361.8,1483.3 362.6,1484.7 363.5,1485.6C364.3,1486.5 365.2,1487.6 366,1487.6L425.7,1487.6C426.4,1487.6 427.2,1486.9 427.9,1486.3C428.7,1485.7 429.4,1484.8 430.2,1483.8C430.9,1482.7 431.7,1481.2 432.4,1479.6C433.2,1478.1 433.9,1476.1 434.7,1474.2C435.3,1472.7 435.9,1471 436.5,1469.7C437.1,1468.3 437.7,1466.9 438.3,1466C438.8,1465.4 439.2,1464.7 439.6,1464.4C440,1464.2 440.3,1464 440.7,1464C441.1,1464 441.4,1464.2 441.8,1464.4C442.2,1464.7 442.6,1465.4 443.1,1466C443.7,1466.9 444.3,1468.3 444.9,1469.7C445.5,1471 446.1,1472.7 446.7,1474.2C447.4,1476.1 448.2,1478.1 448.9,1479.6C449.7,1481.2 450.4,1482.7 451.2,1483.8C451.9,1484.8 452.7,1485.7 453.4,1486.3C454.2,1486.9 454.9,1487.6 455.7,1487.6L470,1487.6C470.8,1487.6 471.6,1486.8 472.4,1486.2C473.1,1485.6 473.9,1484.6 474.7,1483.4C475.5,1482.3 476.3,1480.7 477.1,1479C477.9,1477.3 478.6,1475.1 479.4,1473.1C480,1471.5 480.7,1469.6 481.3,1468.2C481.9,1466.7 482.6,1465.2 483.2,1464.2C483.7,1463.5 484.1,1462.7 484.6,1462.4C485,1462.2 485.3,1462 485.7,1462C486.1,1462 486.4,1462.2 486.8,1462.4C487.2,1462.7 487.7,1463.5 488.1,1464.2C488.8,1465.2 489.4,1466.7 490,1468.2C490.6,1469.6 491.2,1471.5 491.8,1473.1C492.6,1475.1 493.4,1477.3 494.1,1479C494.9,1480.7 495.6,1482.3 496.4,1483.4C497.2,1484.6 497.9,1485.6 498.7,1486.2C499.5,1486.8 500.2,1487.6 501,1487.6L506,1487.6C510.6,1487.6 515.3,1475 519.9,1475C524.8,1475 529.8,1485.5 534.7,1485.5C537.8,1485.5 540.9,1485.3 544,1485C547.3,1484.7 550.7,1481 554,1481C557,1481 560,1484.5 563,1484.5C566.5,1484.5 570,1481 573.5,1481C576.9,1481 580.3,1484 583.7,1484C587.1,1484 590.6,1478 594,1478C597.4,1478 600.8,1484.1 604.2,1485C609.8,1486.5 615.4,1487.6 621,1487.6C626.3,1487.6 631.5,1466 636.8,1466C641.1,1466 645.5,1484 649.8,1484C658.5,1484 667.3,1483.9 676,1483.5C681.3,1483.3 686.7,1471.5 692,1471.5C695.4,1471.5 698.8,1474.5 702.2,1474.5C707.1,1474.5 712.1,1468.8 717,1462C723.1,1453.6 729.2,1386.5 735.3,1386.5C742.1,1386.5 749,1465.5 755.8,1465.5C760,1465.5 764.1,1437 768.3,1437C770.2,1437 772.1,1438.5 774,1438.5C776.3,1438.5 778.6,1431.5 780.9,1431.5C784.3,1431.5 787.7,1454 791.1,1454C794.5,1454 798,1432.5 801.4,1432.5C805.2,1432.5 809,1449.5 812.8,1449.5C815.4,1449.5 818.1,1443 820.7,1443C824.5,1443 828.3,1463 832.1,1463C833,1463 833.9,1452.5 834.8,1444.2C835.8,1435.9 836.7,1422.5 837.6,1407.2C838.5,1392 839.4,1370 840.3,1347.2C841.2,1324.4 842.2,1294.9 843.1,1268C843.8,1246.5 844.5,1221.9 845.3,1202.3C846,1182.7 846.7,1162 847.5,1149C848,1139.2 848.6,1129.1 849.1,1125.3C849.5,1122.4 850,1119.5 850.4,1119.5C850.7,1119.5 851,1121.8 851.2,1124C851.6,1126.8 852,1134.6 852.3,1142.1C852.8,1152.1 853.3,1167.9 853.8,1183C854.3,1198.1 854.8,1216.9 855.2,1233.4C855.8,1254.1 856.4,1276.7 857.1,1294.2C857.7,1311.6 858.3,1328.5 858.9,1340.2C859.5,1351.9 860.1,1362.2 860.7,1368.6C861.3,1374.9 861.9,1382.5 862.5,1383C863.7,1384 864.8,1384.5 866,1384.5C867.2,1384.5 868.5,1383.5 869.7,1383.5C873.7,1383.5 877.7,1473 881.7,1473C885.1,1473 888.5,1466.5 891.9,1466.5L901,1466.5C903.7,1466.5 906.3,1458.5 909,1458.5C912,1458.5 915.1,1467.5 918.1,1467.5C922.9,1467.5 927.7,1400.5 932.5,1400.5C939.1,1400.5 945.7,1472 952.3,1472C957.2,1472 962.1,1454.9 967,1445C970.5,1438 973.9,1422 977.4,1422C982.3,1422 987.3,1467.5 992.2,1467.5C996,1467.5 999.8,1455 1003.6,1455C1008.2,1455 1012.7,1472 1017.3,1472C1022.5,1472 1027.8,1446.6 1033,1443.5C1036.1,1441.7 1039.2,1440 1042.3,1440C1046.1,1440 1049.9,1465.7 1053.7,1467C1056.4,1467.9 1059,1467.6 1061.7,1468.5C1065.1,1469.6 1068.6,1484 1072,1485.5C1074.7,1486.7 1077.3,1487.6 1080,1487.6L1128,1487.6C1132.9,1487.6 1137.7,1480.5 1142.6,1480.5C1148.4,1480.5 1154.2,1487.6 1160,1487.6L1344,1487.6C1344.8,1487.6 1345.7,1485.3 1346.5,1483.5C1347.4,1481.7 1348.2,1478.8 1349.1,1475.5C1350,1472.2 1350.8,1467.4 1351.7,1462.4C1352.5,1457.5 1353.4,1451.1 1354.2,1445.3C1354.9,1440.6 1355.6,1435.2 1356.2,1431C1356.9,1426.7 1357.6,1422.2 1358.3,1419.4C1358.8,1417.3 1359.3,1415.1 1359.8,1414.3C1360.2,1413.6 1360.6,1413 1361,1413C1361.4,1413 1361.8,1413.6 1362.2,1414.3C1362.7,1415.1 1363.2,1417.3 1363.7,1419.4C1364.4,1422.2 1365.1,1426.7 1365.8,1431C1366.4,1435.2 1367.1,1440.6 1367.8,1445.3C1368.6,1451.1 1369.5,1457.5 1370.3,1462.4C1371.2,1467.4 1372,1472.2 1372.9,1475.5C1373.8,1478.8 1374.6,1481.7 1375.5,1483.5C1376.3,1485.3 1377.2,1487.6 1378,1487.6L1399,1487.6C1399.7,1487.6 1400.3,1486.6 1401,1485.8C1401.7,1484.9 1402.3,1483.6 1403,1482.1C1403.7,1480.7 1404.4,1478.5 1405,1476.3C1405.7,1474 1406.4,1471.2 1407,1468.5C1407.6,1466.4 1408.1,1464 1408.6,1462.1C1409.2,1460.2 1409.7,1458.2 1410.3,1456.9C1410.7,1455.9 1411.1,1454.9 1411.5,1454.6C1411.8,1454.3 1412.1,1454 1412.4,1454C1412.7,1454 1413,1454.3 1413.4,1454.6C1413.8,1454.9 1414.2,1455.9 1414.6,1456.9C1415.1,1458.2 1415.7,1460.2 1416.2,1462.1C1416.8,1464 1417.3,1466.4 1417.8,1468.5C1418.5,1471.2 1419.2,1474 1419.9,1476.3C1420.6,1478.5 1421.2,1480.7 1421.9,1482.1C1422.6,1483.6 1423.3,1484.9 1424,1485.8C1424.6,1486.6 1425.3,1487.6 1426,1487.6L1452,1487.6C1456.3,1487.6 1460.5,1483 1464.8,1483C1469.2,1483 1473.6,1487.6 1478,1487.6L1515.5,1487.6" fill="none" stroke="#ff1c1c" stroke-width="5" stroke-linejoin="round"/>
</g>
<clipPath id="c3"><rect x="109" y="1544.5" width="1406.5" height="704.5"/></clipPath>
<g clip-path="url(#c3)">
<path d="M112.2,2245L470,2245C470.5,2245 470.9,2244.8 471.4,2244.7C471.9,2244.5 472.4,2244.3 472.9,2244C473.3,2243.8 473.8,2243.4 474.3,2243C474.8,2242.6 475.2,2242.1 475.7,2241.6C476.1,2241.2 476.5,2240.8 476.8,2240.4C477.2,2240.1 477.6,2239.7 478,2239.5C478.3,2239.3 478.6,2239.2 478.8,2239.1C479.1,2239.1 479.3,2239 479.5,2239C479.7,2239 479.9,2239.1 480.2,2239.1C480.4,2239.2 480.7,2239.3 481,2239.5C481.4,2239.7 481.8,2240.1 482.2,2240.4C482.5,2240.8 482.9,2241.2 483.3,2241.6C483.8,2242.1 484.2,2242.6 484.7,2243C485.2,2243.4 485.7,2243.8 486.1,2244C486.6,2244.3 487.1,2244.5 487.6,2244.7C488.1,2244.8 488.5,2245 489,2245L541,2245C541.5,2245 542,2244.6 542.5,2244.2C543,2243.9 543.5,2243.3 544,2242.7C544.5,2242 545,2241.1 545.5,2240.2C546,2239.2 546.5,2238 547,2236.9C547.4,2236 547.8,2235 548.2,2234.1C548.6,2233.3 549,2232.5 549.4,2231.9C549.7,2231.5 550,2231.1 550.3,2230.9C550.5,2230.8 550.8,2230.7 551,2230.7C551.2,2230.7 551.5,2230.8 551.7,2230.9C552,2231.1 552.3,2231.5 552.6,2231.9C553,2232.5 553.4,2233.3 553.8,2234.1C554.2,2235 554.6,2236 555,2236.9C555.5,2238 556,2239.2 556.5,2240.2C557,2241.1 557.5,2242 558,2242.7C558.5,2243.3 559,2243.9 559.5,2244.2C560,2244.6 560.5,2245 561,2245L571,2245C573.3,2245 575.7,2224.1 578,2215C580.3,2206.2 582.5,2195.6 584.8,2190.8C587.2,2185.7 589.6,2186 592,2180C594,2175 596,2152.2 598,2140C600.8,2122.7 603.7,2092.8 606.5,2092.8C608.3,2092.8 610.2,2096.4 612,2100C613.6,2103.2 615.2,2119 616.8,2119C617.9,2119 618.9,2082.2 620,2050C620.8,2024.8 621.7,1970.3 622.5,1930C623.8,1865.5 625.2,1798.8 626.5,1735C627.1,1706.3 627.7,1664.8 628.3,1650C629,1631.9 629.8,1618.2 630.5,1614C631.4,1608.9 632.3,1605 633.2,1605C634.1,1605 635.1,1608.8 636,1614C636.7,1618 637.5,1631.9 638.2,1650C638.8,1664.8 639.4,1702.8 640,1735C640.8,1776.2 641.5,1831.7 642.3,1880C643.2,1936.7 644.1,2007.3 645,2050C646.2,2108.5 647.5,2173.6 648.7,2187.7C650.2,2204.9 651.7,2211.3 653.2,2217.3C655.5,2226.3 657.7,2232 660,2236C662.3,2240.1 664.7,2245 667,2245L1515.5,2245L1515.5,2246 L112.2,2246 Z" fill="#007cba"/>
<path d="M112.2,2245L354,2245C354.9,2245 355.9,2234.8 356.9,2226.7C357.8,2218.6 358.8,2205.6 359.7,2190.8C360.6,2176 361.6,2154.5 362.6,2132.4C363.5,2110.3 364.4,2081.6 365.4,2055.4C366.2,2034.5 366.9,2010.6 367.7,1991.5C368.4,1972.4 369.2,1952.3 370,1939.7C370.5,1930.1 371.1,1920.3 371.7,1916.7C372.1,1913.9 372.6,1911 373,1911C373.5,1911 373.9,1913.9 374.4,1916.7C375,1920.3 375.6,1930.1 376.2,1939.7C377,1952.3 377.8,1972.4 378.6,1991.5C379.4,2010.6 380.2,2034.5 381,2055.4C382,2081.6 383,2110.3 384,2132.4C385,2154.5 386,2176 387,2190.8C388,2205.6 389,2218.6 390,2226.7C391,2234.8 392,2245 393,2245L458.5,2245C459.6,2245 460.7,2230.7 461.8,2219.4C462.9,2208 463.9,2189.8 465,2169C466.1,2148.3 467.2,2118.2 468.3,2087.2C469.4,2056.2 470.5,2016 471.6,1979.4C472.5,1950.1 473.3,1916.5 474.2,1889.8C475.1,1863 475.9,1834.9 476.8,1817.2C477.5,1803.8 478.1,1790 478.8,1785C479.3,1781 479.8,1777 480.3,1777C480.7,1777 481.2,1781 481.6,1785C482.2,1790 482.8,1803.8 483.4,1817.2C484.1,1834.9 484.9,1863 485.6,1889.8C486.4,1916.5 487.2,1950.1 487.9,1979.4C488.9,2016 489.9,2056.2 490.8,2087.2C491.8,2118.2 492.7,2148.3 493.7,2169C494.6,2189.8 495.6,2208 496.5,2219.4C497.5,2230.7 498.4,2245 499.4,2245L508.5,2245C514,2245 519.4,1919.6 524.9,1919.6C528.2,1919.6 531.4,2080.6 534.7,2080.6C538.1,2080.6 541.6,1647.9 545,1548C546.5,1504.4 548,1450 549.5,1450C551,1450 552.5,1504 554,1548C557.8,1660.3 561.7,2176.3 565.5,2176.3C572.1,2176.3 578.7,1558 585.3,1558C588.8,1558 592.3,1671.3 595.8,1671.3C598.2,1671.3 600.7,1594 603.1,1548C605.4,1504.5 607.7,1400 610,1400C612.3,1400 614.5,1495.1 616.8,1548C619.1,1600.9 621.3,1719 623.6,1719C625.5,1719 627.4,1602.7 629.3,1548C633.5,1426 637.8,1200 642,1200C646.5,1200 651,1438.8 655.5,1548C659.3,1640.2 663.1,1810.3 666.9,1810.3C671.3,1810.3 675.7,1583.3 680.1,1583.3C682.9,1583.3 685.7,1673.6 688.5,1673.6C691.9,1673.6 695.4,1578.6 698.8,1548C699.4,1543 699.9,1535 700.5,1535C701.1,1535 701.6,1542.1 702.2,1548C706,1587.4 709.8,1837.7 713.6,1837.7C718.2,1837.7 722.7,1580.3 727.3,1548C728.5,1539.3 729.8,1530 731,1530C732.4,1530 733.9,1542.1 735.3,1548C736,1551 736.8,1557 737.5,1557C738.3,1557 739,1552.5 739.8,1548C742.2,1533.9 744.6,1400 747,1400C749.5,1400 752.1,1495.1 754.6,1548C757.3,1603.7 759.9,1728.3 762.6,1728.3C764.9,1728.3 767.2,1598.6 769.5,1548C771.2,1510.6 772.9,1450 774.6,1450C776.3,1450 778,1508.7 779.7,1548C785.4,1679.7 791.1,2105.6 796.8,2105.6C801.7,2105.6 806.7,1633.4 811.6,1633.4C815,1633.4 818.5,1815 821.9,1815C824.9,1815 828,1809 831,1809C834,1809 837.1,1828.6 840.1,1828.6C841.6,1828.6 843.2,1814.7 844.7,1803.5C847.7,1781.4 850.8,1732.5 853.8,1689.5C856.7,1648.4 859.6,1577.8 862.5,1548C891.7,1247.8 920.8,1000 950,1000C982.3,1000 1014.6,1265.2 1046.9,1548C1048.4,1561.4 1050,1605 1051.5,1605C1053.4,1605 1055.3,1567.6 1057.2,1548C1058.7,1532.5 1060.2,1500 1061.7,1500C1063.2,1500 1064.8,1526.3 1066.3,1548C1073.5,1650.4 1080.8,2235.6 1088,2235.6C1096.7,2235.6 1105.4,1880.7 1114.1,1880.7C1121.7,1880.7 1129.4,2245 1137,2245L1141.6,2245C1142.5,2245 1143.4,2235 1144.3,2227C1145.2,2219.1 1146.1,2206.3 1147,2191.8C1147.9,2177.2 1148.8,2156.2 1149.7,2134.4C1150.6,2112.7 1151.6,2084.5 1152.5,2058.8C1153.2,2038.3 1153.9,2014.8 1154.6,1996C1155.4,1977.3 1156.1,1957.6 1156.8,1945.1C1157.3,1935.8 1157.9,1926.1 1158.4,1922.6C1158.9,1919.8 1159.3,1917 1159.7,1917C1160.1,1917 1160.5,1919.8 1161,1922.6C1161.5,1926.1 1162.1,1935.8 1162.6,1945.1C1163.3,1957.6 1164,1977.3 1164.8,1996C1165.5,2014.8 1166.2,2038.3 1166.9,2058.8C1167.8,2084.5 1168.8,2112.7 1169.7,2134.4C1170.6,2156.2 1171.5,2177.2 1172.4,2191.8C1173.3,2206.3 1174.2,2219.1 1175.1,2227C1176,2235 1176.9,2245 1177.8,2245L1214.4,2245C1219.3,2245 1224.1,2075.7 1229,2075.7C1231.9,2075.7 1234.7,2110 1237.6,2110C1240,2110 1242.4,2071.3 1244.8,2071.3C1249.8,2071.3 1254.7,2245 1259.7,2245L1271,2245C1271.9,2245 1272.8,2235.5 1273.7,2228C1274.7,2220.6 1275.6,2208.5 1276.5,2194.8C1277.4,2181 1278.3,2161.2 1279.2,2140.7C1280.1,2120.2 1281.1,2093.6 1282,2069.4C1282.7,2050 1283.4,2027.8 1284.2,2010.2C1284.9,1992.5 1285.6,1973.9 1286.4,1962.2C1286.9,1953.3 1287.5,1944.2 1288,1940.9C1288.4,1938.3 1288.9,1935.6 1289.3,1935.6C1289.7,1935.6 1290.1,1938.3 1290.6,1940.9C1291.1,1944.2 1291.7,1953.3 1292.2,1962.2C1292.9,1973.9 1293.7,1992.5 1294.4,2010.2C1295.1,2027.8 1295.9,2050 1296.6,2069.4C1297.5,2093.6 1298.4,2120.2 1299.3,2140.7C1300.2,2161.2 1301.1,2181 1302,2194.8C1303,2208.5 1303.9,2220.6 1304.8,2228C1305.7,2235.5 1306.6,2245 1307.5,2245L1341.7,2245C1347.4,2245 1353.1,1925.3 1358.8,1925.3C1361.8,1925.3 1364.9,2087.4 1367.9,2087.4C1370.9,2087.4 1374,1942.4 1377,1942.4C1383.5,1942.4 1389.9,2233.3 1396.4,2233.3C1403.8,2233.3 1411.1,1909.4 1418.5,1909.4C1420.8,1909.4 1423.2,1938.6 1425.5,1960C1429,1992.2 1432.5,2055 1436,2100C1439.9,2150.1 1443.8,2245 1447.7,2245L1458,2245C1458.9,2245 1459.9,2236.1 1460.8,2229C1461.8,2221.9 1462.7,2210.5 1463.7,2197.5C1464.6,2184.6 1465.6,2165.8 1466.5,2146.5C1467.5,2127.1 1468.4,2102 1469.3,2079.1C1470.1,2060.8 1470.9,2039.8 1471.6,2023.1C1472.4,2006.4 1473.1,1988.9 1473.9,1977.8C1474.4,1969.5 1475,1960.8 1475.6,1957.7C1476,1955.2 1476.5,1952.7 1476.9,1952.7C1477.3,1952.7 1477.7,1955.2 1478.1,1957.7C1478.7,1960.8 1479.2,1969.5 1479.7,1977.8C1480.4,1988.9 1481.1,2006.4 1481.8,2023.1C1482.5,2039.8 1483.2,2060.8 1483.9,2079.1C1484.8,2102 1485.7,2127.1 1486.5,2146.5C1487.4,2165.8 1488.3,2184.6 1489.2,2197.5C1490,2210.5 1490.9,2221.9 1491.8,2229C1492.7,2236.1 1493.5,2245 1494.4,2245L1515.5,2245" fill="none" stroke="#06a94c" stroke-width="5.4" stroke-dasharray="10.5 6.5" stroke-linejoin="round"/>
<path d="M112.2,2245.2L361,2245.2C361.6,2245.2 362.2,2244.9 362.8,2244.6C363.4,2244.4 364,2244 364.6,2243.5C365.2,2243.1 365.8,2242.4 366.4,2241.8C367,2241.1 367.6,2240.2 368.2,2239.4C368.7,2238.8 369.2,2238 369.6,2237.5C370.1,2236.9 370.6,2236.3 371.1,2235.9C371.4,2235.6 371.8,2235.3 372.2,2235.2C372.4,2235.1 372.7,2235 373,2235C373.3,2235 373.6,2235.1 373.8,2235.2C374.2,2235.3 374.6,2235.6 374.9,2235.9C375.4,2236.3 375.9,2236.9 376.4,2237.5C376.8,2238 377.3,2238.8 377.8,2239.4C378.4,2240.2 379,2241.1 379.6,2241.8C380.2,2242.4 380.8,2243.1 381.4,2243.5C382,2244 382.6,2244.4 383.2,2244.6C383.8,2244.9 384.4,2245.2 385,2245.2L462,2245.2C462.9,2245.2 463.8,2244.8 464.6,2244.4C465.5,2244.1 466.4,2243.5 467.2,2242.8C468.1,2242.2 469,2241.3 469.9,2240.3C470.8,2239.4 471.6,2238.1 472.5,2237C473.2,2236.1 473.9,2235 474.6,2234.2C475.3,2233.4 476,2232.5 476.7,2231.9C477.2,2231.5 477.8,2231.1 478.3,2230.9C478.7,2230.8 479.1,2230.7 479.5,2230.7C479.8,2230.7 480.2,2230.8 480.5,2230.9C480.9,2231.1 481.3,2231.5 481.8,2231.9C482.3,2232.5 482.9,2233.4 483.5,2234.2C484,2235 484.6,2236.1 485.2,2237C485.9,2238.1 486.6,2239.4 487.3,2240.3C488,2241.3 488.7,2242.2 489.4,2242.8C490.1,2243.5 490.9,2244.1 491.6,2244.4C492.3,2244.8 493,2245.2 493.7,2245.2L510,2245.2C514.8,2245.2 519.6,2236.4 524.4,2236.4C527.8,2236.4 531.3,2241 534.7,2241C540,2241 545.4,2202.2 550.7,2202.2C555.2,2202.2 559.8,2243 564.3,2243C570.4,2243 576.5,2231.9 582.6,2231.9C586.4,2231.9 590.2,2236.4 594,2236.4C598.5,2236.4 603.1,2227.3 607.6,2227.3C612.9,2227.3 618.3,2239.8 623.6,2239.8C628.2,2239.8 632.7,2232.7 637.3,2228.4C641.8,2224.1 646.4,2213.6 650.9,2213.6C657,2213.6 663.1,2231.9 669.2,2231.9C674.5,2231.9 679.7,2230.4 685,2228.4C689.6,2226.7 694.2,2212.5 698.8,2212.5C703,2212.5 707.1,2230.7 711.3,2230.7C717.4,2230.7 723.5,2187.4 729.6,2187.4C732.6,2187.4 735.7,2203.4 738.7,2203.4C741.7,2203.4 744.8,2188.6 747.8,2188.6C752.7,2188.6 757.7,2230.7 762.6,2230.7C769.1,2230.7 775.5,2203.4 782,2203.4C786.9,2203.4 791.9,2231.9 796.8,2231.9C801.1,2231.9 805.5,2186.3 809.8,2186.3C815,2186.3 820.1,2227.3 825.3,2227.3C832.5,2227.3 839.8,2176 847,2176C850.4,2176 853.8,2197.7 857.2,2197.7C863.1,2197.7 868.9,2115.6 874.8,2115.6C879,2115.6 883.2,2135.2 887.4,2146.4C892.3,2159.5 897.3,2189.7 902.2,2189.7C907.7,2189.7 913.3,2114.5 918.8,2114.5C923.1,2114.5 927.5,2119.9 931.8,2125.9C936.7,2132.7 941.7,2170.2 946.6,2178.3C949.6,2183.3 952.7,2184.4 955.7,2188.6C959.1,2193.3 962.6,2206.8 966,2206.8C968.7,2206.8 971.3,2203.4 974,2203.4C977,2203.4 980.1,2207.9 983.1,2207.9C986.1,2207.9 989.2,2197.7 992.2,2197.7C995.6,2197.7 999,2217 1002.4,2217C1006.7,2217 1011.1,2171.5 1015.4,2171.5C1019.8,2171.5 1024.3,2223.9 1028.7,2223.9C1032.5,2223.9 1036.2,2206.8 1040,2206.8C1043.1,2206.8 1046.1,2212.5 1049.2,2212.5C1053.7,2212.5 1058.3,2197.7 1062.8,2197.7C1068.5,2197.7 1074.3,2245.2 1080,2245.2L1092,2245.2C1097.5,2245.2 1102.9,2220.5 1108.4,2220.5C1115.3,2220.5 1122.1,2245.2 1129,2245.2L1144,2245.2C1144.8,2245.2 1145.6,2244 1146.4,2243C1147.1,2242 1147.9,2240.4 1148.7,2238.6C1149.5,2236.8 1150.3,2234.2 1151.1,2231.5C1151.9,2228.8 1152.6,2225.3 1153.4,2222.1C1154,2219.6 1154.7,2216.6 1155.3,2214.3C1155.9,2212 1156.6,2209.5 1157.2,2208C1157.7,2206.8 1158.1,2205.6 1158.6,2205.2C1159,2204.8 1159.3,2204.5 1159.7,2204.5C1160.1,2204.5 1160.4,2204.8 1160.8,2205.2C1161.2,2205.6 1161.7,2206.8 1162.1,2208C1162.8,2209.5 1163.4,2212 1164,2214.3C1164.6,2216.6 1165.2,2219.6 1165.8,2222.1C1166.6,2225.3 1167.3,2228.8 1168.1,2231.5C1168.9,2234.2 1169.6,2236.8 1170.4,2238.6C1171.2,2240.4 1171.9,2242 1172.7,2243C1173.5,2244 1174.2,2245.2 1175,2245.2L1215,2245.2C1222.3,2245.2 1229.7,2240 1237,2240C1245.3,2240 1253.7,2245.2 1262,2245.2L1276,2245.2C1280.4,2245.2 1284.9,2235.3 1289.3,2235.3C1293.5,2235.3 1297.8,2245.2 1302,2245.2L1344,2245.2C1348.6,2245.2 1353.1,2234.1 1357.7,2234.1C1361.1,2234.1 1364.5,2240 1367.9,2240C1371.1,2240 1374.3,2230.7 1377.5,2230.7C1382,2230.7 1386.5,2245.2 1391,2245.2C1395.3,2245.2 1399.7,2243.8 1404,2242C1408.7,2240.1 1413.3,2231.2 1418,2225C1422,2219.8 1425.9,2207.9 1429.9,2207.9C1434.7,2207.9 1439.5,2245.2 1444.3,2245.2L1461.4,2245.2C1462.1,2245.2 1462.9,2243.9 1463.6,2242.8C1464.4,2241.7 1465.1,2240 1465.8,2238C1466.6,2236.1 1467.3,2233.3 1468.1,2230.3C1468.8,2227.4 1469.5,2223.6 1470.3,2220.2C1470.9,2217.4 1471.5,2214.2 1472.1,2211.7C1472.6,2209.2 1473.2,2206.6 1473.8,2204.9C1474.3,2203.6 1474.7,2202.3 1475.2,2201.8C1475.5,2201.5 1475.9,2201.1 1476.2,2201.1C1476.5,2201.1 1476.9,2201.5 1477.2,2201.8C1477.7,2202.3 1478.1,2203.6 1478.6,2204.9C1479.2,2206.6 1479.8,2209.2 1480.3,2211.7C1480.9,2214.2 1481.5,2217.4 1482.1,2220.2C1482.9,2223.6 1483.6,2227.4 1484.3,2230.3C1485.1,2233.3 1485.8,2236.1 1486.6,2238C1487.3,2240 1488,2241.7 1488.8,2242.8C1489.5,2243.9 1490.3,2245.2 1491,2245.2L1515.5,2245.2" fill="none" stroke="#ff1c1c" stroke-width="5" stroke-linejoin="round"/>
</g>
<path d="M109,736 V29.0 M1515.5,736 V29.0" fill="none" stroke="#000" stroke-width="6"/>
<path d="M106,32 H1518.5" stroke="#000" stroke-width="6"/>
<path d="M106,733 H1518.5" stroke="#000" stroke-width="5.6"/>
<path d="M112.2,733 v24M176.0,733 v14.5M239.8,733 v24M303.6,733 v14.5M367.3,733 v24M431.1,733 v14.5M494.9,733 v24M558.7,733 v14.5M622.5,733 v24M686.3,733 v14.5M750.1,733 v24M813.9,733 v14.5M877.6,733 v24M941.4,733 v14.5M1005.2,733 v24M1069.0,733 v14.5M1132.8,733 v24M1196.6,733 v14.5M1260.4,733 v24M1324.1,733 v14.5M1387.9,733 v24M1451.7,733 v14.5M1515.5,733 v24" stroke="#000" stroke-width="5.4" fill="none"/>
<path d="M109,1490.5 V784.0 M1515.5,1490.5 V784.0" fill="none" stroke="#000" stroke-width="6"/>
<path d="M106,787 H1518.5" stroke="#000" stroke-width="6"/>
<path d="M106,1487.5 H1518.5" stroke="#000" stroke-width="5.6"/>
<path d="M112.2,1487.5 v24M176.0,1487.5 v14.5M239.8,1487.5 v24M303.6,1487.5 v14.5M367.3,1487.5 v24M431.1,1487.5 v14.5M494.9,1487.5 v24M558.7,1487.5 v14.5M622.5,1487.5 v24M686.3,1487.5 v14.5M750.1,1487.5 v24M813.9,1487.5 v14.5M877.6,1487.5 v24M941.4,1487.5 v14.5M1005.2,1487.5 v24M1069.0,1487.5 v14.5M1132.8,1487.5 v24M1196.6,1487.5 v14.5M1260.4,1487.5 v24M1324.1,1487.5 v14.5M1387.9,1487.5 v24M1451.7,1487.5 v14.5M1515.5,1487.5 v24" stroke="#000" stroke-width="5.4" fill="none"/>
<path d="M109,2248 V1541.9 M1515.5,2248 V1541.9" fill="none" stroke="#000" stroke-width="6"/>
<path d="M106,1544.2 H1518.5" stroke="#000" stroke-width="4.6"/>
<path d="M106,2245 H1518.5" stroke="#000" stroke-width="5.6"/>
<path d="M112.2,2245 v24M176.0,2245 v14.5M239.8,2245 v24M303.6,2245 v14.5M367.3,2245 v24M431.1,2245 v14.5M494.9,2245 v24M558.7,2245 v14.5M622.5,2245 v24M686.3,2245 v14.5M750.1,2245 v24M813.9,2245 v14.5M877.6,2245 v24M941.4,2245 v14.5M1005.2,2245 v24M1069.0,2245 v14.5M1132.8,2245 v24M1196.6,2245 v14.5M1260.4,2245 v24M1324.1,2245 v14.5M1387.9,2245 v24M1451.7,2245 v14.5M1515.5,2245 v24" stroke="#000" stroke-width="5.4" fill="none"/>
<text x="133.5" y="128.3" class="ttl">Au<tspan class="sub" dy="19">3</tspan><tspan dy="-19">Ar</tspan><tspan class="sup" dy="-37">+</tspan></text>
<text x="131.2" y="874.6" class="ttl">Au<tspan class="sub" dy="19">15</tspan><tspan dy="-19">Ar</tspan><tspan class="sup" dy="-37">+</tspan></text>
<text x="124.3" y="1631.4" class="ttl">Au<tspan class="sub" dy="19">16</tspan><tspan dy="-19">Ar</tspan><tspan class="sup" dy="-37">+</tspan></text>
<text class="yl" transform="translate(86.7,375) rotate(-90)">PDOS</text>
<text class="yl" transform="translate(88.8,1129.2) rotate(-90)">PDOS</text>
<text class="yl" transform="translate(85.8,1885.2) rotate(-90)">PDOS</text>
<text class="tk" x="99.5" y="2323.3">-17</text>
<text class="tk" x="227.1" y="2323.3">-16</text>
<text class="tk" x="354.6" y="2323.3">-15</text>
<text class="tk" x="482.2" y="2323.3">-14</text>
<text class="tk" x="609.8" y="2323.3">-13</text>
<text class="tk" x="737.4" y="2323.3">-12</text>
<text class="tk" x="864.9" y="2323.3">-11</text>
<text class="tk" x="992.5" y="2323.3">-10</text>
<text class="tk" x="1120.1" y="2323.3">-9</text>
<text class="tk" x="1247.7" y="2323.3">-8</text>
<text class="tk" x="1375.2" y="2323.3">-7</text>
<text class="tk" x="1502.8" y="2323.3">-6</text>
<text class="xl" x="805.5" y="2413">Energy (eV)</text>
<rect x="1122.7" y="80.4" width="94.6" height="49.5" fill="#007cba"/>
<path d="M1122.7,194 H1217.3" stroke="#ff1c1c" stroke-width="5.5"/>
<path d="M1122.7,283.3 H1217.3" stroke="#06a94c" stroke-width="5.5" stroke-dasharray="11.4 6.4"/>
<text class="lg" x="1230.3" y="134">Ar</text>
<text class="lg" x="1230.3" y="223.5">Au site</text>
<text class="lg" x="1232.3" y="312.4">Total</text>
<defs>
<radialGradient id="gau" cx="0.58" cy="0.36" r="0.72" fx="0.61" fy="0.33"><stop offset="0" stop-color="#ffff70"/><stop offset="0.07" stop-color="#f2f226"/><stop offset="0.2" stop-color="#d4d414"/><stop offset="0.36" stop-color="#aaaa0a"/><stop offset="0.52" stop-color="#787802"/><stop offset="0.66" stop-color="#484800"/><stop offset="0.8" stop-color="#202000"/><stop offset="0.95" stop-color="#0a0a00"/></radialGradient>
<radialGradient id="gaul" cx="0.58" cy="0.38" r="0.74" fx="0.61" fy="0.34"><stop offset="0" stop-color="#ffff70"/><stop offset="0.1" stop-color="#f2f226"/><stop offset="0.32" stop-color="#dada16"/><stop offset="0.52" stop-color="#baba10"/><stop offset="0.7" stop-color="#8a8a08"/><stop offset="0.85" stop-color="#505002"/><stop offset="1" stop-color="#1c1c00"/></radialGradient><radialGradient id="gaud" cx="0.58" cy="0.36" r="0.72" fx="0.61" fy="0.33"><stop offset="0" stop-color="#c8c830"/><stop offset="0.2" stop-color="#9a9a10"/><stop offset="0.45" stop-color="#626204"/><stop offset="0.7" stop-color="#2c2c00"/><stop offset="0.95" stop-color="#0a0a00"/></radialGradient>
<radialGradient id="gar" cx="0.58" cy="0.36" r="0.72" fx="0.61" fy="0.33"><stop offset="0" stop-color="#dcfdff"/><stop offset="0.14" stop-color="#7cdef4"/><stop offset="0.36" stop-color="#38b4e0"/><stop offset="0.56" stop-color="#1c86c2"/><stop offset="0.74" stop-color="#10548c"/><stop offset="0.92" stop-color="#06264a"/></radialGradient>
<filter id="pb" x="-30%" y="-30%" width="160%" height="160%"><feGaussianBlur stdDeviation="2.2"/></filter><filter id="ub" x="-20%" y="-20%" width="140%" height="140%"><feGaussianBlur stdDeviation="6"/></filter>
<filter id="mR" x="-8%" y="-8%" width="116%" height="116%" color-interpolation-filters="sRGB"><feTurbulence type="fractalNoise" baseFrequency="0.12" numOctaves="1" seed="7" result="n"/><feColorMatrix in="n" type="matrix" values="0 0 0 0 1  0 0 0 0 1  0 0 0 0 1  1 0 0 0 0" result="nr"/><feComponentTransfer in="nr" result="l1"><feFuncA type="table" tableValues="0 0 0 0 0 0 0 0 0 0 0 0 0 0.3 1 0.3 0 0 0 0 0 0 0 0 0 0 0 0 0"/></feComponentTransfer><feColorMatrix in="n" type="matrix" values="0 0 0 0 1  0 0 0 0 1  0 0 0 0 1  0 1 0 0 0" result="ng"/><feComponentTransfer in="ng" result="l2"><feFuncA type="table" tableValues="0 0 0 0 0 0 0 0 0 0 0 0 0 0.3 1 0.3 0 0 0 0 0 0 0 0 0 0 0 0 0"/></feComponentTransfer><feComposite in="l1" in2="l2" operator="over" result="net"/><feFlood flood-color="#ff1414" flood-opacity="0.8" result="fn"/><feComposite in="fn" in2="net" operator="in" result="netcol"/><feComposite in="netcol" in2="SourceAlpha" operator="in" result="netc"/><feMorphology in="SourceAlpha" operator="erode" radius="2" result="er"/><feComposite in="SourceAlpha" in2="er" operator="out" result="edge"/><feFlood flood-color="#ff1414" flood-opacity="0.42" result="fl"/><feComposite in="fl" in2="edge" operator="in" result="edgec"/><feFlood flood-color="#ff1414" flood-opacity="0.025" result="fl2"/><feComposite in="fl2" in2="SourceAlpha" operator="in" result="tint"/><feMerge><feMergeNode in="tint"/><feMergeNode in="netc"/><feMergeNode in="edgec"/></feMerge></filter><filter id="mB" x="-8%" y="-8%" width="116%" height="116%" color-interpolation-filters="sRGB"><feTurbulence type="fractalNoise" baseFrequency="0.12" numOctaves="1" seed="11" result="n"/><feColorMatrix in="n" type="matrix" values="0 0 0 0 1  0 0 0 0 1  0 0 0 0 1  1 0 0 0 0" result="nr"/><feComponentTransfer in="nr" result="l1"><feFuncA type="table" tableValues="0 0 0 0 0 0 0 0 0 0 0 0 0 0.3 1 0.3 0 0 0 0 0 0 0 0 0 0 0 0 0"/></feComponentTransfer><feColorMatrix in="n" type="matrix" values="0 0 0 0 1  0 0 0 0 1  0 0 0 0 1  0 1 0 0 0" result="ng"/><feComponentTransfer in="ng" result="l2"><feFuncA type="table" tableValues="0 0 0 0 0 0 0 0 0 0 0 0 0 0.3 1 0.3 0 0 0 0 0 0 0 0 0 0 0 0 0"/></feComponentTransfer><feComposite in="l1" in2="l2" operator="over" result="net"/><feFlood flood-color="#1c1cff" flood-opacity="0.8" result="fn"/><feComposite in="fn" in2="net" operator="in" result="netcol"/><feComposite in="netcol" in2="SourceAlpha" operator="in" result="netc"/><feMorphology in="SourceAlpha" operator="erode" radius="2" result="er"/><feComposite in="SourceAlpha" in2="er" operator="out" result="edge"/><feFlood flood-color="#1c1cff" flood-opacity="0.42" result="fl"/><feComposite in="fl" in2="edge" operator="in" result="edgec"/><feFlood flood-color="#1c1cff" flood-opacity="0.025" result="fl2"/><feComposite in="fl2" in2="SourceAlpha" operator="in" result="tint"/><feMerge><feMergeNode in="tint"/><feMergeNode in="netc"/><feMergeNode in="edgec"/></feMerge></filter><filter id="mRl" x="-8%" y="-8%" width="116%" height="116%" color-interpolation-filters="sRGB"><feTurbulence type="fractalNoise" baseFrequency="0.12" numOctaves="1" seed="7" result="n"/><feColorMatrix in="n" type="matrix" values="0 0 0 0 1  0 0 0 0 1  0 0 0 0 1  1 0 0 0 0" result="nr"/><feComponentTransfer in="nr" result="l1"><feFuncA type="table" tableValues="0 0 0 0 0 0 0 0 0 0 0 0 0 0.3 1 0.3 0 0 0 0 0 0 0 0 0 0 0 0 0"/></feComponentTransfer><feColorMatrix in="n" type="matrix" values="0 0 0 0 1  0 0 0 0 1  0 0 0 0 1  0 1 0 0 0" result="ng"/><feComponentTransfer in="ng" result="l2"><feFuncA type="table" tableValues="0 0 0 0 0 0 0 0 0 0 0 0 0 0.3 1 0.3 0 0 0 0 0 0 0 0 0 0 0 0 0"/></feComponentTransfer><feComposite in="l1" in2="l2" operator="over" result="net"/><feFlood flood-color="#ff1414" flood-opacity="0.6" result="fn"/><feComposite in="fn" in2="net" operator="in" result="netcol"/><feComposite in="netcol" in2="SourceAlpha" operator="in" result="netc"/><feMorphology in="SourceAlpha" operator="erode" radius="2" result="er"/><feComposite in="SourceAlpha" in2="er" operator="out" result="edge"/><feFlood flood-color="#ff1414" flood-opacity="0.3" result="fl"/><feComposite in="fl" in2="edge" operator="in" result="edgec"/><feFlood flood-color="#ff1414" flood-opacity="0.02" result="fl2"/><feComposite in="fl2" in2="SourceAlpha" operator="in" result="tint"/><feMerge><feMergeNode in="tint"/><feMergeNode in="netc"/><feMergeNode in="edgec"/></feMerge></filter><filter id="mBl" x="-8%" y="-8%" width="116%" height="116%" color-interpolation-filters="sRGB"><feTurbulence type="fractalNoise" baseFrequency="0.12" numOctaves="1" seed="11" result="n"/><feColorMatrix in="n" type="matrix" values="0 0 0 0 1  0 0 0 0 1  0 0 0 0 1  1 0 0 0 0" result="nr"/><feComponentTransfer in="nr" result="l1"><feFuncA type="table" tableValues="0 0 0 0 0 0 0 0 0 0 0 0 0 0.3 1 0.3 0 0 0 0 0 0 0 0 0 0 0 0 0"/></feComponentTransfer><feColorMatrix in="n" type="matrix" values="0 0 0 0 1  0 0 0 0 1  0 0 0 0 1  0 1 0 0 0" result="ng"/><feComponentTransfer in="ng" result="l2"><feFuncA type="table" tableValues="0 0 0 0 0 0 0 0 0 0 0 0 0 0.3 1 0.3 0 0 0 0 0 0 0 0 0 0 0 0 0"/></feComponentTransfer><feComposite in="l1" in2="l2" operator="over" result="net"/><feFlood flood-color="#1c1cff" flood-opacity="0.6" result="fn"/><feComposite in="fn" in2="net" operator="in" result="netcol"/><feComposite in="netcol" in2="SourceAlpha" operator="in" result="netc"/><feMorphology in="SourceAlpha" operator="erode" radius="2" result="er"/><feComposite in="SourceAlpha" in2="er" operator="out" result="edge"/><feFlood flood-color="#1c1cff" flood-opacity="0.3" result="fl"/><feComposite in="fl" in2="edge" operator="in" result="edgec"/><feFlood flood-color="#1c1cff" flood-opacity="0.02" result="fl2"/><feComposite in="fl2" in2="SourceAlpha" operator="in" result="tint"/><feMerge><feMergeNode in="tint"/><feMergeNode in="netc"/><feMergeNode in="edgec"/></feMerge></filter><filter id="mRs" x="-8%" y="-8%" width="116%" height="116%" color-interpolation-filters="sRGB"><feTurbulence type="fractalNoise" baseFrequency="0.12" numOctaves="1" seed="3" result="n"/><feColorMatrix in="n" type="matrix" values="0 0 0 0 1  0 0 0 0 1  0 0 0 0 1  1 0 0 0 0" result="nr"/><feComponentTransfer in="nr" result="l1"><feFuncA type="table" tableValues="0 0 0 0 0 0 0 0 0 0 0 0 0 0.3 1 0.3 0 0 0 0 0 0 0 0 0 0 0 0 0"/></feComponentTransfer><feColorMatrix in="n" type="matrix" values="0 0 0 0 1  0 0 0 0 1  0 0 0 0 1  0 1 0 0 0" result="ng"/><feComponentTransfer in="ng" result="l2"><feFuncA type="table" tableValues="0 0 0 0 0 0 0 0 0 0 0 0 0 0.3 1 0.3 0 0 0 0 0 0 0 0 0 0 0 0 0"/></feComponentTransfer><feComposite in="l1" in2="l2" operator="over" result="net"/><feFlood flood-color="#ff1414" flood-opacity="0.9" result="fn"/><feComposite in="fn" in2="net" operator="in" result="netcol"/><feComposite in="netcol" in2="SourceAlpha" operator="in" result="netc"/><feMorphology in="SourceAlpha" operator="erode" radius="1" result="er"/><feComposite in="SourceAlpha" in2="er" operator="out" result="edge"/><feFlood flood-color="#ff1414" flood-opacity="0.0" result="fl"/><feComposite in="fl" in2="edge" operator="in" result="edgec"/><feFlood flood-color="#ff1414" flood-opacity="0.0" result="fl2"/><feComposite in="fl2" in2="SourceAlpha" operator="in" result="tint"/><feMerge><feMergeNode in="tint"/><feMergeNode in="netc"/><feMergeNode in="edgec"/></feMerge></filter><filter id="mBs" x="-8%" y="-8%" width="116%" height="116%" color-interpolation-filters="sRGB"><feTurbulence type="fractalNoise" baseFrequency="0.12" numOctaves="1" seed="5" result="n"/><feColorMatrix in="n" type="matrix" values="0 0 0 0 1  0 0 0 0 1  0 0 0 0 1  1 0 0 0 0" result="nr"/><feComponentTransfer in="nr" result="l1"><feFuncA type="table" tableValues="0 0 0 0 0 0 0 0 0 0 0 0 0 0.3 1 0.3 0 0 0 0 0 0 0 0 0 0 0 0 0"/></feComponentTransfer><feColorMatrix in="n" type="matrix" values="0 0 0 0 1  0 0 0 0 1  0 0 0 0 1  0 1 0 0 0" result="ng"/><feComponentTransfer in="ng" result="l2"><feFuncA type="table" tableValues="0 0 0 0 0 0 0 0 0 0 0 0 0 0.3 1 0.3 0 0 0 0 0 0 0 0 0 0 0 0 0"/></feComponentTransfer><feComposite in="l1" in2="l2" operator="over" result="net"/><feFlood flood-color="#4040c0" flood-opacity="0.45" result="fn"/><feComposite in="fn" in2="net" operator="in" result="netcol"/><feComposite in="netcol" in2="SourceAlpha" operator="in" result="netc"/><feMorphology in="SourceAlpha" operator="erode" radius="1" result="er"/><feComposite in="SourceAlpha" in2="er" operator="out" result="edge"/><feFlood flood-color="#4040c0" flood-opacity="0.0" result="fl"/><feComposite in="fl" in2="edge" operator="in" result="edgec"/><feFlood flood-color="#4040c0" flood-opacity="0.0" result="fl2"/><feComposite in="fl2" in2="SourceAlpha" operator="in" result="tint"/><feMerge><feMergeNode in="tint"/><feMergeNode in="netc"/><feMergeNode in="edgec"/></feMerge></filter><filter id="dR" x="-10%" y="-10%" width="120%" height="120%" color-interpolation-filters="sRGB"><feTurbulence type="fractalNoise" baseFrequency="0.18" numOctaves="1" seed="21" result="n"/><feColorMatrix in="n" type="matrix" values="0 0 0 0 1  0 0 0 0 1  0 0 0 0 1  1 0 0 0 0" result="nr"/><feComponentTransfer in="nr" result="l1"><feFuncA type="table" tableValues="0 0 0 0 0 0 0 0 0 0 0.6 1 0.6 0 0 0 0 0 0 0 0 0 0"/></feComponentTransfer><feFlood flood-color="#ff3000" flood-opacity="0.85" result="fn"/><feComposite in="fn" in2="l1" operator="in" result="netcol"/><feGaussianBlur in="SourceAlpha" stdDeviation="2" result="sa"/><feComposite in="netcol" in2="sa" operator="in"/></filter><filter id="dB" x="-10%" y="-10%" width="120%" height="120%" color-interpolation-filters="sRGB"><feTurbulence type="fractalNoise" baseFrequency="0.18" numOctaves="1" seed="23" result="n"/><feColorMatrix in="n" type="matrix" values="0 0 0 0 1  0 0 0 0 1  0 0 0 0 1  1 0 0 0 0" result="nr"/><feComponentTransfer in="nr" result="l1"><feFuncA type="table" tableValues="0 0 0 0 0 0 0 0 0 0 0.6 1 0.6 0 0 0 0 0 0 0 0 0 0"/></feComponentTransfer><feFlood flood-color="#2828d8" flood-opacity="0.85" result="fn"/><feComposite in="fn" in2="l1" operator="in" result="netcol"/><feGaussianBlur in="SourceAlpha" stdDeviation="2" result="sa"/><feComposite in="netcol" in2="sa" operator="in"/></filter></defs><g id="molecules"><ellipse cx="1636.5" cy="195.9" rx="28.3" ry="35.4" filter="url(#mR)"/><ellipse cx="1722.8" cy="339" rx="35.4" ry="26.9" filter="url(#mR)"/><path d="M1670.5,205.9 L1782.3,204.4" stroke="#a05000" stroke-width="8" stroke-linecap="round"/><path d="M1670.5,205.9 L1782.3,204.4" stroke="#f0a818" stroke-width="4.4" stroke-linecap="round"/><path d="M1670.5,205.9 L1729.9,300.7" stroke="#a05000" stroke-width="8" stroke-linecap="round"/><path d="M1670.5,205.9 L1729.9,300.7" stroke="#f0a818" stroke-width="4.4" stroke-linecap="round"/><path d="M1782.3,204.4 L1729.9,300.7" stroke="#a05000" stroke-width="8" stroke-linecap="round"/><path d="M1782.3,204.4 L1729.9,300.7" stroke="#f0a818" stroke-width="4.4" stroke-linecap="round"/><path d="M1678.9,235.6C1681.8,225.7 1688.4,204 1693.1,193.1C1697.8,182.3 1701.6,175.4 1707.3,170.5C1712.9,165.5 1721,162 1727.1,163.4C1733.2,164.8 1738.9,172.6 1744.1,178.9C1749.3,185.3 1753.1,193.1 1758.2,201.6C1763.4,210.1 1769.6,221 1775.2,229.9C1780.9,238.9 1789.2,248.3 1792.2,255.4C1795.3,262.5 1796.5,267.2 1793.6,272.4C1790.8,277.6 1782.1,285.6 1775.2,286.6C1768.4,287.5 1760.1,280 1752.6,278.1C1745,276.2 1737.5,275.2 1729.9,275.2C1722.4,275.2 1714.3,279 1707.3,278.1C1700.2,277.1 1692.6,273.8 1687.4,269.6C1682.3,265.3 1677.5,258.2 1676.1,252.6C1674.7,246.9 1676.1,245.5 1678.9,235.6Z" filter="url(#mR)"/><ellipse cx="1766.7" cy="176.1" rx="11.9" ry="10.8" filter="url(#mB)"/><ellipse cx="1800.7" cy="229.9" rx="10.8" ry="10.8" filter="url(#mB)"/><ellipse cx="1681.8" cy="178.9" rx="7.9" ry="6.2" filter="url(#mB)"/><ellipse cx="1662" cy="233.3" rx="9.1" ry="6.2" filter="url(#mB)"/><ellipse cx="1700.2" cy="300.7" rx="6.8" ry="14.2" filter="url(#mB)"/><ellipse cx="1758.2" cy="303.6" rx="4.8" ry="10.8" filter="url(#mB)"/><circle cx="1670.5" cy="205.9" r="27" fill="url(#gaul)"/><clipPath id="sc1"><circle cx="1670.5" cy="205.9" r="27"/></clipPath><g clip-path="url(#sc1)"><circle cx="1694.8" cy="208.6" r="12.2" fill="#ff4800" fill-opacity="0.3" filter="url(#pb)"/><circle cx="1694.8" cy="208.6" r="13.4" filter="url(#dR)"/></g><circle cx="1782.3" cy="204.4" r="27" fill="url(#gaul)"/><clipPath id="sc2"><circle cx="1782.3" cy="204.4" r="27"/></clipPath><g clip-path="url(#sc2)"><circle cx="1802.6" cy="190.9" r="16.2" fill="#ff4800" fill-opacity="0.4" filter="url(#pb)"/><circle cx="1802.6" cy="190.9" r="17.8" filter="url(#dR)"/><circle cx="1760.7" cy="217.9" r="13.5" fill="#e01000" fill-opacity="0.6" filter="url(#pb)"/></g><circle cx="1729.9" cy="300.7" r="28" fill="url(#gaul)"/><clipPath id="sc3"><circle cx="1729.9" cy="300.7" r="28"/></clipPath><g clip-path="url(#sc3)"><circle cx="1732.7" cy="274.1" r="14" fill="#ff4800" fill-opacity="0.3" filter="url(#pb)"/><circle cx="1732.7" cy="274.1" r="15.4" filter="url(#dR)"/></g><circle cx="1670.5" cy="205.9" r="24" filter="url(#mBs)"/><circle cx="1782.3" cy="204.4" r="24" filter="url(#mBs)"/><circle cx="1729.9" cy="300.7" r="24" filter="url(#mBs)"/><circle cx="1873.8" cy="145" r="26.5" fill="url(#gar)"/><clipPath id="sc4"><circle cx="1873.8" cy="145" r="26.5"/></clipPath><g clip-path="url(#sc4)"><circle cx="1853.9" cy="159.5" r="26.5" fill="#180404" fill-opacity="0.92" filter="url(#pb)"/><circle cx="1860.5" cy="155.6" r="13.2" fill="#e01000" fill-opacity="0.3" filter="url(#pb)"/></g><path d="M1769.4,135.2C1770.2,129.4 1772.6,125 1776.3,120.2C1780,115.4 1785.3,110 1791.3,106.4C1797.4,102.7 1805.8,99.5 1812.7,98.2C1819.5,97 1827.3,97.7 1832.7,98.9C1838.1,100 1841.5,101.8 1845.2,105.1C1849,108.5 1851.5,113.5 1855.3,118.9C1859,124.4 1862.8,130.2 1867.8,137.7C1872.8,145.2 1880.8,156.9 1885.4,164C1890,171.2 1893.3,174.7 1895.4,180.3C1897.5,186 1898.3,191.8 1897.9,197.9C1897.5,204 1896,210.9 1892.9,216.7C1889.7,222.6 1884.5,228.6 1879.1,233C1873.7,237.4 1866.6,240.9 1860.3,243C1854,245.1 1847.3,246.4 1841.5,245.5C1835.6,244.7 1829.8,241.8 1825.2,238C1820.6,234.3 1816.8,228.6 1813.9,223C1811,217.3 1810.4,210.4 1807.6,204.2C1804.9,197.9 1802,191 1797.6,185.4C1793.2,179.7 1785.7,175.3 1781.3,170.3C1776.9,165.3 1773.3,161.1 1771.3,155.3C1769.3,149.4 1768.6,141.1 1769.4,135.2Z" filter="url(#mR)"/><path d="M1847.8,97.6C1847.1,91.8 1848.8,87.4 1851.5,82.6C1854.2,77.8 1858.8,72.3 1864,68.8C1869.3,65.2 1876.2,62.7 1882.9,61.3C1889.5,59.8 1896.9,59.4 1904.2,60C1911.5,60.6 1919.8,62.1 1926.7,65C1933.6,67.9 1940.1,72.3 1945.5,77.6C1951,82.8 1955.8,89.9 1959.3,96.4C1962.9,102.8 1965.4,109.5 1966.8,116.4C1968.3,123.3 1968.7,130.4 1968.1,137.7C1967.5,145 1966,153.4 1963.1,160.3C1960.2,167.2 1955.1,174.1 1950.5,179.1C1946,184.1 1940.5,188.1 1935.5,190.4C1930.5,192.7 1925.7,193.7 1920.5,192.9C1915.2,192 1908.8,189.1 1904.2,185.4C1899.6,181.6 1896.4,175.3 1892.9,170.3C1889.3,165.3 1887,161.1 1882.9,155.3C1878.7,149.4 1872.4,141.5 1867.8,135.2C1863.2,128.9 1858.6,123.9 1855.3,117.7C1851.9,111.4 1848.4,103.5 1847.8,97.6Z" filter="url(#mB)"/><rect x="1598" y="418" width="354" height="295" fill="#fefefe"/><ellipse cx="1618.1" cy="576.9" rx="8.5" ry="14.2" filter="url(#mBl)"/><ellipse cx="1687.4" cy="693" rx="14.2" ry="15.6" filter="url(#mRl)"/><path d="M1652,574.1 L1765.3,574.1" stroke="#74740a" stroke-width="8.5" stroke-linecap="round"/><path d="M1652,574.1 L1765.3,574.1" stroke="#e2e21a" stroke-width="4.7" stroke-linecap="round"/><path d="M1652,574.1 L1708.7,671.8" stroke="#74740a" stroke-width="8.5" stroke-linecap="round"/><path d="M1652,574.1 L1708.7,671.8" stroke="#e2e21a" stroke-width="4.7" stroke-linecap="round"/><path d="M1765.3,574.1 L1708.7,671.8" stroke="#74740a" stroke-width="8.5" stroke-linecap="round"/><path d="M1765.3,574.1 L1708.7,671.8" stroke="#e2e21a" stroke-width="4.7" stroke-linecap="round"/><ellipse cx="1710.1" cy="562.8" rx="34" ry="26.9" filter="url(#mB)"/><path d="M1718.6,639.2C1719.5,629.8 1729,613.7 1735.6,605.2C1742.2,596.7 1751.2,589.2 1758.2,588.2C1765.3,587.3 1774.3,593.9 1778.1,599.6C1781.8,605.2 1782.8,614.7 1780.9,622.2C1779,629.8 1772.4,638.3 1766.7,644.9C1761.1,651.5 1753.1,659 1746.9,661.9C1740.8,664.7 1734.6,665.7 1729.9,661.9C1725.2,658.1 1717.7,648.7 1718.6,639.2Z" filter="url(#mR)"/><circle cx="1652" cy="574.1" r="28" fill="url(#gau)"/><circle cx="1708.7" cy="671.8" r="29" fill="url(#gau)"/><circle cx="1765.3" cy="574.1" r="28" fill="url(#gau)"/><clipPath id="sc5"><circle cx="1765.3" cy="574.1" r="28"/></clipPath><g clip-path="url(#sc5)"><circle cx="1768.1" cy="550.3" r="12.6" fill="#ff4800" fill-opacity="0.4" filter="url(#pb)"/><circle cx="1768.1" cy="550.3" r="13.9" filter="url(#dR)"/><circle cx="1765.3" cy="596.5" r="14" fill="#e01000" fill-opacity="0.8" filter="url(#pb)"/><circle cx="1742.9" cy="579.7" r="11.2" fill="#7a7a90" fill-opacity="0.7" filter="url(#pb)"/><circle cx="1787.7" cy="582.5" r="9.8" fill="#7a7a90" fill-opacity="0.6" filter="url(#pb)"/></g><circle cx="1858.8" cy="518.9" r="25" fill="url(#gar)"/><clipPath id="sc6"><circle cx="1858.8" cy="518.9" r="25"/></clipPath><g clip-path="url(#sc6)"><circle cx="1846.3" cy="500.1" r="23.8" fill="#7a7a90" fill-opacity="0.9" filter="url(#pb)"/><circle cx="1848.8" cy="506.4" r="12.5" fill="#e01000" fill-opacity="0.5" filter="url(#pb)"/></g><path d="M1746.9,525.9C1746,518.4 1748.8,512.3 1752.6,503.3C1756.4,494.3 1762,482.5 1769.6,472.1C1777.1,461.7 1785.6,449.5 1797.9,441C1810.2,432.5 1829.5,424 1843.2,421.2C1856.9,418.3 1870.1,420.2 1880,424C1889.9,427.8 1897.7,436.3 1902.7,443.8C1907.6,451.4 1910.2,461.3 1909.8,469.3C1909.3,477.3 1904.8,485.3 1899.8,492C1894.9,498.6 1887.6,503.8 1880,508.9C1872.5,514.1 1863,518.4 1854.5,523.1C1846,527.8 1837.5,533 1829,537.3C1820.5,541.5 1811.6,545.3 1803.6,548.6C1795.5,551.9 1788.5,557.1 1780.9,557.1C1773.3,557.1 1763.9,553.8 1758.2,548.6C1752.6,543.4 1747.9,533.5 1746.9,525.9Z" filter="url(#mR)"/><path d="M1786.6,571.3C1791.8,565.1 1805.4,555.2 1814.9,548.6C1824.3,542 1832.3,538.2 1843.2,531.6C1854.1,525 1869.2,515.1 1880,508.9C1890.9,502.8 1899.4,496.2 1908.3,494.8C1917.3,493.4 1927.2,496.2 1933.8,500.5C1940.4,504.7 1945.4,512.7 1948,520.3C1950.6,527.8 1951.3,536.3 1949.4,545.8C1947.5,555.2 1942.6,567.9 1936.7,576.9C1930.8,585.9 1923.4,593.4 1914,599.6C1904.6,605.7 1891.8,610.4 1880,613.7C1868.2,617 1854.1,618.9 1843.2,619.4C1832.3,619.9 1823.4,619.9 1814.9,616.6C1806.4,613.3 1797.4,604.8 1792.2,599.6C1787,594.4 1784.7,590.1 1783.7,585.4C1782.8,580.7 1781.4,577.4 1786.6,571.3Z" filter="url(#mB)"/><path d="M1627.9,839.3C1630.1,835 1632.4,830.2 1636.4,827.4C1640.4,824.5 1647,821.9 1651.8,822.2C1656.6,822.5 1662.3,825.9 1665.5,829.1C1668.6,832.2 1667.7,838.7 1670.6,841C1673.4,843.3 1677.2,842.5 1682.6,842.7C1688,843 1696.5,841.6 1703.1,842.7C1709.6,843.9 1716.8,846.2 1721.9,849.6C1727,853 1730.7,860.1 1733.8,863.2C1737,866.4 1737.3,868.4 1740.7,868.4C1744.1,868.4 1748.9,864.1 1754.4,863.2C1759.8,862.4 1767.2,862.1 1773.2,863.2C1779.1,864.4 1785.7,867 1790.3,870.1C1794.8,873.2 1798.2,877.8 1800.5,882.1C1802.8,886.3 1800.8,889.5 1803.9,895.7C1807.1,902 1814.5,911.4 1819.3,919.7C1824.2,927.9 1829.9,938.2 1833,945.3C1836.1,952.4 1837.8,955.8 1838.1,962.4C1838.4,968.9 1837.3,977.5 1834.7,984.6C1832.1,991.7 1827,1000 1822.7,1005.1C1818.5,1010.3 1811.1,1010.8 1809.1,1015.4C1807.1,1019.9 1811.1,1026.2 1810.8,1032.5C1810.5,1038.7 1810.2,1046.2 1807.4,1053C1804.5,1059.8 1796.8,1067.2 1793.7,1073.5C1790.5,1079.8 1789.1,1084.9 1788.5,1090.6C1788,1096.3 1791.4,1102.8 1790.3,1107.7C1789.1,1112.5 1786,1117.1 1781.7,1119.7C1777.4,1122.2 1769.7,1123.6 1764.6,1123.1C1759.5,1122.5 1754.6,1119.4 1750.9,1116.2C1747.2,1113.1 1746.7,1106.8 1742.4,1104.3C1738.1,1101.7 1731.3,1102 1725.3,1100.9C1719.3,1099.7 1711.3,1099.7 1706.5,1097.4C1701.7,1095.2 1700.8,1092.3 1696.2,1087.2C1691.7,1082.1 1683.7,1072.4 1679.1,1066.7C1674.6,1061 1673.4,1057.5 1668.9,1053C1664.3,1048.4 1657.5,1045.6 1651.8,1039.3C1646.1,1033 1639.3,1022.5 1634.7,1015.4C1630.1,1008.3 1628.4,1003.4 1624.4,996.6C1620.5,989.7 1613.9,981.5 1610.8,974.4C1607.6,967.2 1605.6,960.7 1605.6,953.8C1605.6,947 1609.6,939 1610.8,933.3C1611.9,927.6 1613.9,924.8 1612.5,919.7C1611.1,914.5 1604.2,908.8 1602.2,902.6C1600.2,896.3 1599.7,888.3 1600.5,882.1C1601.4,875.8 1603.6,869.8 1607.4,865C1611.1,860.1 1619.3,857.3 1622.7,853C1626.2,848.7 1625.6,843.6 1627.9,839.3Z" filter="url(#mR)"/><path d="M1636.4,851.3C1646.4,843.6 1666.3,852.1 1682.6,856.4C1698.8,860.7 1715.3,869.2 1733.8,876.9C1752.4,884.6 1780.9,889.7 1793.7,902.6C1806.5,915.4 1810.8,935.3 1810.8,953.8C1810.8,972.4 1797.9,993.7 1793.7,1013.7C1789.4,1033.6 1792.3,1059.3 1785.1,1073.5C1778,1087.7 1765.2,1099.1 1750.9,1099.1C1736.7,1099.1 1715.3,1084.9 1699.7,1073.5C1684,1062.1 1668.9,1047.9 1656.9,1030.8C1645,1013.7 1633.6,992.3 1627.9,970.9C1622.2,949.6 1621.3,922.5 1622.7,902.6C1624.2,882.6 1626.4,859 1636.4,851.3Z" fill="#a83808" fill-opacity="0.22" filter="url(#ub)"/><ellipse cx="1648.4" cy="844.4" rx="22.2" ry="22.2" filter="url(#mRl)"/><ellipse cx="1691.1" cy="871.8" rx="32.5" ry="30.8" filter="url(#mRl)"/><ellipse cx="1759.5" cy="895.7" rx="34.2" ry="34.2" filter="url(#mRl)"/><ellipse cx="1634.7" cy="902.6" rx="32.5" ry="39.3" filter="url(#mRl)"/><ellipse cx="1675.7" cy="953.8" rx="39.3" ry="41" filter="url(#mRl)"/><ellipse cx="1742.4" cy="967.5" rx="39.3" ry="42.7" filter="url(#mRl)"/><ellipse cx="1802.2" cy="970.9" rx="34.2" ry="42.7" filter="url(#mRl)"/><ellipse cx="1689.4" cy="1035.9" rx="39.3" ry="37.6" filter="url(#mRl)"/><ellipse cx="1759.5" cy="1047.9" rx="39.3" ry="41" filter="url(#mRl)"/><ellipse cx="1764.6" cy="1099.1" rx="23.9" ry="23.9" filter="url(#mRl)"/><ellipse cx="1728.7" cy="1082.1" rx="29.1" ry="20.5" filter="url(#mRl)"/><ellipse cx="1624.4" cy="970.9" rx="20.5" ry="34.2" filter="url(#mRl)"/><path d="M1657.8,853 L1645.8,890.6" stroke="#a05000" stroke-width="7" stroke-linecap="round"/><path d="M1657.8,853 L1645.8,890.6" stroke="#f0a818" stroke-width="3.9" stroke-linecap="round"/><path d="M1657.8,853 L1728.7,904.3" stroke="#a05000" stroke-width="7" stroke-linecap="round"/><path d="M1657.8,853 L1728.7,904.3" stroke="#f0a818" stroke-width="3.9" stroke-linecap="round"/><path d="M1645.8,890.6 L1728.7,904.3" stroke="#a05000" stroke-width="7" stroke-linecap="round"/><path d="M1645.8,890.6 L1728.7,904.3" stroke="#f0a818" stroke-width="3.9" stroke-linecap="round"/><path d="M1645.8,890.6 L1638.1,952.1" stroke="#a05000" stroke-width="7" stroke-linecap="round"/><path d="M1645.8,890.6 L1638.1,952.1" stroke="#f0a818" stroke-width="3.9" stroke-linecap="round"/><path d="M1645.8,890.6 L1689.4,976.1" stroke="#a05000" stroke-width="7" stroke-linecap="round"/><path d="M1645.8,890.6 L1689.4,976.1" stroke="#f0a818" stroke-width="3.9" stroke-linecap="round"/><path d="M1728.7,904.3 L1689.4,976.1" stroke="#a05000" stroke-width="7" stroke-linecap="round"/><path d="M1728.7,904.3 L1689.4,976.1" stroke="#f0a818" stroke-width="3.9" stroke-linecap="round"/><path d="M1728.7,904.3 L1769.7,935" stroke="#a05000" stroke-width="7" stroke-linecap="round"/><path d="M1728.7,904.3 L1769.7,935" stroke="#f0a818" stroke-width="3.9" stroke-linecap="round"/><path d="M1728.7,904.3 L1766.3,996.6" stroke="#a05000" stroke-width="7" stroke-linecap="round"/><path d="M1728.7,904.3 L1766.3,996.6" stroke="#f0a818" stroke-width="3.9" stroke-linecap="round"/><path d="M1728.7,904.3 L1821,917.9" stroke="#a05000" stroke-width="7" stroke-linecap="round"/><path d="M1728.7,904.3 L1821,917.9" stroke="#f0a818" stroke-width="3.9" stroke-linecap="round"/><path d="M1638.1,952.1 L1689.4,976.1" stroke="#a05000" stroke-width="7" stroke-linecap="round"/><path d="M1638.1,952.1 L1689.4,976.1" stroke="#f0a818" stroke-width="3.9" stroke-linecap="round"/><path d="M1638.1,952.1 L1680.9,1034.2" stroke="#a05000" stroke-width="7" stroke-linecap="round"/><path d="M1638.1,952.1 L1680.9,1034.2" stroke="#f0a818" stroke-width="3.9" stroke-linecap="round"/><path d="M1689.4,976.1 L1766.3,996.6" stroke="#a05000" stroke-width="7" stroke-linecap="round"/><path d="M1689.4,976.1 L1766.3,996.6" stroke="#f0a818" stroke-width="3.9" stroke-linecap="round"/><path d="M1689.4,976.1 L1680.9,1034.2" stroke="#a05000" stroke-width="7" stroke-linecap="round"/><path d="M1689.4,976.1 L1680.9,1034.2" stroke="#f0a818" stroke-width="3.9" stroke-linecap="round"/><path d="M1689.4,976.1 L1730.4,1066.7" stroke="#a05000" stroke-width="7" stroke-linecap="round"/><path d="M1689.4,976.1 L1730.4,1066.7" stroke="#f0a818" stroke-width="3.9" stroke-linecap="round"/><path d="M1769.7,935 L1766.3,996.6" stroke="#a05000" stroke-width="7" stroke-linecap="round"/><path d="M1769.7,935 L1766.3,996.6" stroke="#f0a818" stroke-width="3.9" stroke-linecap="round"/><path d="M1769.7,935 L1821,917.9" stroke="#a05000" stroke-width="7" stroke-linecap="round"/><path d="M1769.7,935 L1821,917.9" stroke="#f0a818" stroke-width="3.9" stroke-linecap="round"/><path d="M1766.3,996.6 L1821,917.9" stroke="#a05000" stroke-width="7" stroke-linecap="round"/><path d="M1766.3,996.6 L1821,917.9" stroke="#f0a818" stroke-width="3.9" stroke-linecap="round"/><path d="M1766.3,996.6 L1730.4,1066.7" stroke="#a05000" stroke-width="7" stroke-linecap="round"/><path d="M1766.3,996.6 L1730.4,1066.7" stroke="#f0a818" stroke-width="3.9" stroke-linecap="round"/><path d="M1766.3,996.6 L1766.3,1082.1" stroke="#a05000" stroke-width="7" stroke-linecap="round"/><path d="M1766.3,996.6 L1766.3,1082.1" stroke="#f0a818" stroke-width="3.9" stroke-linecap="round"/><path d="M1680.9,1034.2 L1730.4,1066.7" stroke="#a05000" stroke-width="7" stroke-linecap="round"/><path d="M1680.9,1034.2 L1730.4,1066.7" stroke="#f0a818" stroke-width="3.9" stroke-linecap="round"/><path d="M1730.4,1066.7 L1766.3,1082.1" stroke="#a05000" stroke-width="7" stroke-linecap="round"/><path d="M1730.4,1066.7 L1766.3,1082.1" stroke="#f0a818" stroke-width="3.9" stroke-linecap="round"/><path d="M1733.8,953.8 L1821,917.9" stroke="#a05000" stroke-width="7" stroke-linecap="round"/><path d="M1733.8,953.8 L1821,917.9" stroke="#f0a818" stroke-width="3.9" stroke-linecap="round"/><path d="M1733.8,953.8 L1689.4,976.1" stroke="#a05000" stroke-width="7" stroke-linecap="round"/><path d="M1733.8,953.8 L1689.4,976.1" stroke="#f0a818" stroke-width="3.9" stroke-linecap="round"/><path d="M1686,906 L1728.7,904.3" stroke="#a05000" stroke-width="7" stroke-linecap="round"/><path d="M1686,906 L1728.7,904.3" stroke="#f0a818" stroke-width="3.9" stroke-linecap="round"/><path d="M1750.9,1030.8 L1730.4,1066.7" stroke="#a05000" stroke-width="7" stroke-linecap="round"/><path d="M1750.9,1030.8 L1730.4,1066.7" stroke="#f0a818" stroke-width="3.9" stroke-linecap="round"/><path d="M1750.9,1030.8 L1766.3,996.6" stroke="#a05000" stroke-width="7" stroke-linecap="round"/><path d="M1750.9,1030.8 L1766.3,996.6" stroke="#f0a818" stroke-width="3.9" stroke-linecap="round"/><path d="M1645.8,890.6 L1686,906" stroke="#a05000" stroke-width="7" stroke-linecap="round"/><path d="M1645.8,890.6 L1686,906" stroke="#f0a818" stroke-width="3.9" stroke-linecap="round"/><path d="M1686,906 L1689.4,976.1" stroke="#a05000" stroke-width="7" stroke-linecap="round"/><path d="M1686,906 L1689.4,976.1" stroke="#f0a818" stroke-width="3.9" stroke-linecap="round"/><circle cx="1686" cy="906" r="12" fill="url(#gaud)"/><clipPath id="sc7"><circle cx="1686" cy="906" r="12"/></clipPath><g clip-path="url(#sc7)"><circle cx="1686" cy="906" r="12" fill="#e01000" fill-opacity="0.3" filter="url(#pb)"/></g><circle cx="1733.8" cy="953.8" r="15.4" fill="url(#gaud)"/><clipPath id="sc8"><circle cx="1733.8" cy="953.8" r="15.4"/></clipPath><g clip-path="url(#sc8)"><circle cx="1733.8" cy="953.8" r="15.4" fill="#e01000" fill-opacity="0.3" filter="url(#pb)"/></g><circle cx="1750.9" cy="1030.8" r="13.7" fill="url(#gaud)"/><clipPath id="sc9"><circle cx="1750.9" cy="1030.8" r="13.7"/></clipPath><g clip-path="url(#sc9)"><circle cx="1750.9" cy="1030.8" r="13.7" fill="#e01000" fill-opacity="0.3" filter="url(#pb)"/></g><circle cx="1657.8" cy="853" r="18.8" fill="url(#gau)"/><clipPath id="sc10"><circle cx="1657.8" cy="853" r="18.8"/></clipPath><g clip-path="url(#sc10)"><circle cx="1657.8" cy="853" r="20.7" filter="url(#dR)" opacity="1"/><circle cx="1650.3" cy="858.6" r="9.4" fill="#ff4800" fill-opacity="0.1" filter="url(#pb)"/><circle cx="1650.3" cy="858.6" r="10.3" filter="url(#dR)"/></g><circle cx="1638.1" cy="952.1" r="18.8" fill="url(#gau)"/><clipPath id="sc11"><circle cx="1638.1" cy="952.1" r="18.8"/></clipPath><g clip-path="url(#sc11)"><circle cx="1638.1" cy="952.1" r="20.7" filter="url(#dR)" opacity="1"/><circle cx="1638.1" cy="952.1" r="13.2" fill="#ff4800" fill-opacity="0.2" filter="url(#pb)"/><circle cx="1638.1" cy="952.1" r="14.5" filter="url(#dR)"/></g><circle cx="1645.8" cy="890.6" r="24.8" fill="url(#gau)"/><clipPath id="sc12"><circle cx="1645.8" cy="890.6" r="24.8"/></clipPath><g clip-path="url(#sc12)"><circle cx="1645.8" cy="890.6" r="27.3" filter="url(#dR)" opacity="1"/><circle cx="1630.9" cy="893.1" r="12.4" fill="#ff4800" fill-opacity="0.1" filter="url(#pb)"/><circle cx="1630.9" cy="893.1" r="13.6" filter="url(#dR)"/></g><circle cx="1728.7" cy="904.3" r="19.7" fill="url(#gau)"/><clipPath id="sc13"><circle cx="1728.7" cy="904.3" r="19.7"/></clipPath><g clip-path="url(#sc13)"><circle cx="1728.7" cy="904.3" r="21.6" filter="url(#dR)" opacity="1"/><circle cx="1734.6" cy="900.3" r="9.8" fill="#1c1cc8" fill-opacity="0.1" filter="url(#pb)"/><circle cx="1734.6" cy="900.3" r="10.8" filter="url(#dB)"/></g><circle cx="1769.7" cy="935" r="17.1" fill="url(#gau)"/><clipPath id="sc14"><circle cx="1769.7" cy="935" r="17.1"/></clipPath><g clip-path="url(#sc14)"><circle cx="1769.7" cy="935" r="18.8" filter="url(#dR)" opacity="1"/><circle cx="1769.7" cy="940.2" r="8.5" fill="#ff4800" fill-opacity="0.1" filter="url(#pb)"/><circle cx="1769.7" cy="940.2" r="9.4" filter="url(#dR)"/></g><circle cx="1680.9" cy="1034.2" r="21.4" fill="url(#gau)"/><clipPath id="sc15"><circle cx="1680.9" cy="1034.2" r="21.4"/></clipPath><g clip-path="url(#sc15)"><circle cx="1680.9" cy="1034.2" r="23.5" filter="url(#dR)" opacity="1"/><circle cx="1680.9" cy="1034.2" r="15" fill="#ff4800" fill-opacity="0.2" filter="url(#pb)"/><circle cx="1680.9" cy="1034.2" r="16.5" filter="url(#dR)"/></g><circle cx="1689.4" cy="976.1" r="25.6" fill="url(#gau)"/><clipPath id="sc16"><circle cx="1689.4" cy="976.1" r="25.6"/></clipPath><g clip-path="url(#sc16)"><circle cx="1689.4" cy="976.1" r="28.2" filter="url(#dR)" opacity="0.8"/><circle cx="1671.5" cy="986.3" r="10.3" fill="#ff4800" fill-opacity="0.1" filter="url(#pb)"/><circle cx="1671.5" cy="986.3" r="11.3" filter="url(#dR)"/></g><circle cx="1766.3" cy="996.6" r="23.1" fill="url(#gau)"/><clipPath id="sc17"><circle cx="1766.3" cy="996.6" r="23.1"/></clipPath><g clip-path="url(#sc17)"><circle cx="1766.3" cy="996.6" r="25.4" filter="url(#dR)" opacity="1"/><circle cx="1768.6" cy="987.4" r="9.2" fill="#1c1cc8" fill-opacity="0.2" filter="url(#pb)"/><circle cx="1768.6" cy="987.4" r="10.2" filter="url(#dB)"/></g><circle cx="1766.3" cy="1082.1" r="18.8" fill="url(#gau)"/><clipPath id="sc18"><circle cx="1766.3" cy="1082.1" r="18.8"/></clipPath><g clip-path="url(#sc18)"><circle cx="1766.3" cy="1082.1" r="20.7" filter="url(#dR)" opacity="1"/><circle cx="1770.1" cy="1078.3" r="9.4" fill="#ff4800" fill-opacity="0.2" filter="url(#pb)"/><circle cx="1770.1" cy="1078.3" r="10.3" filter="url(#dR)"/></g><circle cx="1730.4" cy="1066.7" r="25.6" fill="url(#gau)"/><clipPath id="sc19"><circle cx="1730.4" cy="1066.7" r="25.6"/></clipPath><g clip-path="url(#sc19)"><circle cx="1730.4" cy="1066.7" r="28.2" filter="url(#dR)" opacity="1"/><circle cx="1717.6" cy="1076.9" r="12.8" fill="#ff4800" fill-opacity="0.1" filter="url(#pb)"/><circle cx="1717.6" cy="1076.9" r="14.1" filter="url(#dR)"/></g><circle cx="1821" cy="917.9" r="21.4" fill="url(#gau)"/><clipPath id="sc20"><circle cx="1821" cy="917.9" r="21.4"/></clipPath><g clip-path="url(#sc20)"><circle cx="1808.2" cy="920.1" r="15" fill="#1c1cc8" fill-opacity="0.4" filter="url(#pb)"/><circle cx="1808.2" cy="920.1" r="16.5" filter="url(#dB)"/><circle cx="1836" cy="915.8" r="11.8" fill="#ff4800" fill-opacity="0.4" filter="url(#pb)"/><circle cx="1836" cy="915.8" r="12.9" filter="url(#dR)"/></g><circle cx="1914" cy="877.8" r="24" fill="url(#gar)"/><clipPath id="sc21"><circle cx="1914" cy="877.8" r="24"/></clipPath><g clip-path="url(#sc21)"><circle cx="1893.6" cy="888.6" r="21.6" fill="#180404" fill-opacity="0.9" filter="url(#pb)"/><circle cx="1899.6" cy="885" r="12" fill="#e01000" fill-opacity="0.3" filter="url(#pb)"/></g><ellipse cx="1865.9" cy="899" rx="51" ry="52.4" filter="url(#mR)"/><ellipse cx="1937.2" cy="870.7" rx="37.4" ry="45.3" filter="url(#mB)"/><ellipse cx="1684.6" cy="1243.3" rx="31.2" ry="36.8" transform="rotate(30 1684.6 1243.3)" filter="url(#mR)"/><ellipse cx="1741.3" cy="1322.6" rx="12.7" ry="31.2" transform="rotate(-15 1741.3 1322.6)" filter="url(#mR)"/><ellipse cx="1783.7" cy="1316.9" rx="19.8" ry="15.6" transform="rotate(-30 1783.7 1316.9)" filter="url(#mRl)"/><ellipse cx="1701.6" cy="1384.9" rx="31.2" ry="35.4" filter="url(#mB)"/><ellipse cx="1727.1" cy="1416" rx="17" ry="31.2" transform="rotate(20 1727.1 1416)" filter="url(#mB)"/><ellipse cx="1775.2" cy="1271.6" rx="10.8" ry="11.3" filter="url(#mBl)"/><ellipse cx="1741.3" cy="1464.2" rx="14.2" ry="9.9" filter="url(#mBl)"/><ellipse cx="1618.1" cy="1379.2" rx="8.5" ry="11.3" filter="url(#mBl)"/><ellipse cx="1778.1" cy="1353.7" rx="7.1" ry="11.3" filter="url(#mBl)"/><path d="M1657.7,1200.8 L1639.3,1239" stroke="#3c3c00" stroke-width="9.5" stroke-linecap="round"/><path d="M1657.7,1200.8 L1639.3,1239" stroke="#b4b414" stroke-width="5.2" stroke-linecap="round"/><path d="M1639.3,1239 L1620.9,1282.9" stroke="#3c3c00" stroke-width="9.5" stroke-linecap="round"/><path d="M1639.3,1239 L1620.9,1282.9" stroke="#b4b414" stroke-width="5.2" stroke-linecap="round"/><path d="M1657.7,1200.8 L1721.4,1265.9" stroke="#3c3c00" stroke-width="9.5" stroke-linecap="round"/><path d="M1657.7,1200.8 L1721.4,1265.9" stroke="#b4b414" stroke-width="5.2" stroke-linecap="round"/><path d="M1639.3,1239 L1721.4,1265.9" stroke="#3c3c00" stroke-width="9.5" stroke-linecap="round"/><path d="M1639.3,1239 L1721.4,1265.9" stroke="#b4b414" stroke-width="5.2" stroke-linecap="round"/><path d="M1620.9,1282.9 L1721.4,1265.9" stroke="#3c3c00" stroke-width="9.5" stroke-linecap="round"/><path d="M1620.9,1282.9 L1721.4,1265.9" stroke="#b4b414" stroke-width="5.2" stroke-linecap="round"/><path d="M1620.9,1282.9 L1714.3,1315.5" stroke="#3c3c00" stroke-width="9.5" stroke-linecap="round"/><path d="M1620.9,1282.9 L1714.3,1315.5" stroke="#b4b414" stroke-width="5.2" stroke-linecap="round"/><path d="M1620.9,1282.9 L1606.7,1342.4" stroke="#3c3c00" stroke-width="9.5" stroke-linecap="round"/><path d="M1620.9,1282.9 L1606.7,1342.4" stroke="#b4b414" stroke-width="5.2" stroke-linecap="round"/><path d="M1620.9,1282.9 L1650.6,1392" stroke="#3c3c00" stroke-width="9.5" stroke-linecap="round"/><path d="M1620.9,1282.9 L1650.6,1392" stroke="#b4b414" stroke-width="5.2" stroke-linecap="round"/><path d="M1721.4,1265.9 L1714.3,1315.5" stroke="#3c3c00" stroke-width="9.5" stroke-linecap="round"/><path d="M1721.4,1265.9 L1714.3,1315.5" stroke="#b4b414" stroke-width="5.2" stroke-linecap="round"/><path d="M1721.4,1265.9 L1805,1287.2" stroke="#3c3c00" stroke-width="9.5" stroke-linecap="round"/><path d="M1721.4,1265.9 L1805,1287.2" stroke="#b4b414" stroke-width="5.2" stroke-linecap="round"/><path d="M1714.3,1315.5 L1805,1287.2" stroke="#3c3c00" stroke-width="9.5" stroke-linecap="round"/><path d="M1714.3,1315.5 L1805,1287.2" stroke="#b4b414" stroke-width="5.2" stroke-linecap="round"/><path d="M1714.3,1315.5 L1650.6,1392" stroke="#3c3c00" stroke-width="9.5" stroke-linecap="round"/><path d="M1714.3,1315.5 L1650.6,1392" stroke="#b4b414" stroke-width="5.2" stroke-linecap="round"/><path d="M1714.3,1315.5 L1752.6,1362.2" stroke="#3c3c00" stroke-width="9.5" stroke-linecap="round"/><path d="M1714.3,1315.5 L1752.6,1362.2" stroke="#b4b414" stroke-width="5.2" stroke-linecap="round"/><path d="M1606.7,1342.4 L1650.6,1392" stroke="#3c3c00" stroke-width="9.5" stroke-linecap="round"/><path d="M1606.7,1342.4 L1650.6,1392" stroke="#b4b414" stroke-width="5.2" stroke-linecap="round"/><path d="M1606.7,1342.4 L1714.3,1315.5" stroke="#3c3c00" stroke-width="9.5" stroke-linecap="round"/><path d="M1606.7,1342.4 L1714.3,1315.5" stroke="#b4b414" stroke-width="5.2" stroke-linecap="round"/><path d="M1650.6,1392 L1695.9,1434.4" stroke="#3c3c00" stroke-width="9.5" stroke-linecap="round"/><path d="M1650.6,1392 L1695.9,1434.4" stroke="#b4b414" stroke-width="5.2" stroke-linecap="round"/><path d="M1752.6,1362.2 L1695.9,1434.4" stroke="#3c3c00" stroke-width="9.5" stroke-linecap="round"/><path d="M1752.6,1362.2 L1695.9,1434.4" stroke="#b4b414" stroke-width="5.2" stroke-linecap="round"/><path d="M1752.6,1362.2 L1729.9,1441.5" stroke="#3c3c00" stroke-width="9.5" stroke-linecap="round"/><path d="M1752.6,1362.2 L1729.9,1441.5" stroke="#b4b414" stroke-width="5.2" stroke-linecap="round"/><path d="M1752.6,1362.2 L1805,1287.2" stroke="#3c3c00" stroke-width="9.5" stroke-linecap="round"/><path d="M1752.6,1362.2 L1805,1287.2" stroke="#b4b414" stroke-width="5.2" stroke-linecap="round"/><path d="M1695.9,1434.4 L1729.9,1441.5" stroke="#3c3c00" stroke-width="9.5" stroke-linecap="round"/><path d="M1695.9,1434.4 L1729.9,1441.5" stroke="#b4b414" stroke-width="5.2" stroke-linecap="round"/><path d="M1714.3,1315.5 L1712.9,1350.9" stroke="#3c3c00" stroke-width="9.5" stroke-linecap="round"/><path d="M1714.3,1315.5 L1712.9,1350.9" stroke="#b4b414" stroke-width="5.2" stroke-linecap="round"/><path d="M1712.9,1350.9 L1650.6,1392" stroke="#3c3c00" stroke-width="9.5" stroke-linecap="round"/><path d="M1712.9,1350.9 L1650.6,1392" stroke="#b4b414" stroke-width="5.2" stroke-linecap="round"/><path d="M1640.7,1305.6 L1620.9,1282.9" stroke="#3c3c00" stroke-width="9.5" stroke-linecap="round"/><path d="M1640.7,1305.6 L1620.9,1282.9" stroke="#b4b414" stroke-width="5.2" stroke-linecap="round"/><path d="M1640.7,1305.6 L1606.7,1342.4" stroke="#3c3c00" stroke-width="9.5" stroke-linecap="round"/><path d="M1640.7,1305.6 L1606.7,1342.4" stroke="#b4b414" stroke-width="5.2" stroke-linecap="round"/><circle cx="1640.7" cy="1305.6" r="15.6" fill="url(#gaud)"/><circle cx="1712.9" cy="1350.9" r="15.6" fill="url(#gaud)"/><circle cx="1657.7" cy="1200.8" r="22.7" fill="url(#gau)"/><circle cx="1639.3" cy="1239" r="24.9" fill="url(#gau)"/><clipPath id="sc22"><circle cx="1639.3" cy="1239" r="24.9"/></clipPath><g clip-path="url(#sc22)"><circle cx="1629.3" cy="1241.5" r="8.7" fill="#ff4800" fill-opacity="0.3" filter="url(#pb)"/><circle cx="1629.3" cy="1241.5" r="9.6" filter="url(#dR)"/></g><circle cx="1606.7" cy="1342.4" r="24.1" fill="url(#gau)"/><circle cx="1721.4" cy="1265.9" r="23.2" fill="url(#gau)"/><circle cx="1620.9" cy="1282.9" r="26.9" fill="url(#gau)"/><circle cx="1729.9" cy="1441.5" r="22.1" fill="url(#gau)"/><circle cx="1695.9" cy="1434.4" r="24.1" fill="url(#gau)"/><clipPath id="sc23"><circle cx="1695.9" cy="1434.4" r="24.1"/></clipPath><g clip-path="url(#sc23)"><circle cx="1695.9" cy="1434.4" r="21.7" fill="#1c1cc8" fill-opacity="0.2" filter="url(#pb)"/><circle cx="1695.9" cy="1434.4" r="23.8" filter="url(#dB)"/></g><circle cx="1752.6" cy="1362.2" r="23.2" fill="url(#gau)"/><circle cx="1714.3" cy="1315.5" r="26.9" fill="url(#gau)"/><clipPath id="sc24"><circle cx="1714.3" cy="1315.5" r="26.9"/></clipPath><g clip-path="url(#sc24)"><circle cx="1692.8" cy="1318.2" r="8.1" fill="#ff4800" fill-opacity="0.3" filter="url(#pb)"/><circle cx="1692.8" cy="1318.2" r="8.9" filter="url(#dR)"/></g><circle cx="1650.6" cy="1392" r="27.8" fill="url(#gau)"/><circle cx="1805" cy="1287.2" r="24.9" fill="url(#gau)"/><clipPath id="sc25"><circle cx="1805" cy="1287.2" r="24.9"/></clipPath><g clip-path="url(#sc25)"><circle cx="1812.4" cy="1272.2" r="8.7" fill="#ff4800" fill-opacity="0.3" filter="url(#pb)"/><circle cx="1812.4" cy="1272.2" r="9.6" filter="url(#dR)"/></g><circle cx="1695.9" cy="1434.4" r="22" filter="url(#mBs)"/><circle cx="1906.9" cy="1248.9" r="24" fill="url(#gar)"/><clipPath id="sc26"><circle cx="1906.9" cy="1248.9" r="24"/></clipPath><g clip-path="url(#sc26)"><circle cx="1894.9" cy="1230.9" r="22.8" fill="#7a7a90" fill-opacity="0.85" filter="url(#pb)"/><circle cx="1897.3" cy="1236.9" r="14.4" fill="#e01000" fill-opacity="0.6" filter="url(#pb)"/></g><path d="M1797.9,1263.1C1796.9,1254.1 1801.7,1237.1 1809.2,1223.5C1816.8,1209.8 1829,1192.3 1843.2,1181C1857.4,1169.6 1877.7,1157.8 1894.2,1155.5C1910.7,1153.1 1930.5,1160.2 1942.3,1166.8C1954.1,1173.4 1962.6,1185.7 1965,1195.1C1967.3,1204.6 1962.6,1215.4 1956.5,1223.5C1950.4,1231.5 1940,1237.6 1928.2,1243.3C1916.4,1248.9 1899.8,1252.7 1885.7,1257.4C1871.5,1262.2 1855,1268.3 1843.2,1271.6C1831.4,1274.9 1822.4,1278.7 1814.9,1277.3C1807.3,1275.9 1798.8,1272.1 1797.9,1263.1Z" filter="url(#mR)"/><path d="M1817.7,1305.6C1822.4,1298 1841.3,1284.3 1857.4,1277.3C1873.4,1270.2 1897.5,1270.2 1914,1263.1C1930.5,1256 1944.7,1237.1 1956.5,1234.8C1968.3,1232.4 1979.1,1241.9 1984.8,1248.9C1990.5,1256 1992.4,1266.9 1990.5,1277.3C1988.6,1287.7 1981.5,1301.8 1973.5,1311.3C1965.5,1320.7 1954.6,1328.7 1942.3,1333.9C1930.1,1339.1 1914,1342.4 1899.8,1342.4C1885.7,1342.4 1869.2,1337.2 1857.4,1333.9C1845.6,1330.6 1835.7,1327.3 1829,1322.6C1822.4,1317.9 1813,1313.1 1817.7,1305.6Z" filter="url(#mB)"/><ellipse cx="1591" cy="1654.7" rx="20.1" ry="21.9" filter="url(#mB)"/><ellipse cx="1673.1" cy="1632.8" rx="23.7" ry="21.9" filter="url(#mR)"/><ellipse cx="1715" cy="1627.4" rx="20.1" ry="18.2" filter="url(#mB)"/><ellipse cx="1742.3" cy="1636.5" rx="21.9" ry="20.1" filter="url(#mR)"/><ellipse cx="1806.2" cy="1649.2" rx="27.4" ry="25.5" filter="url(#mR)"/><ellipse cx="1766.1" cy="1654.7" rx="18.2" ry="18.2" filter="url(#mB)"/><ellipse cx="1587.4" cy="1724" rx="21.9" ry="21.9" filter="url(#mR)"/><ellipse cx="1638.4" cy="1694.8" rx="23.7" ry="25.5" filter="url(#mB)"/><ellipse cx="1687.6" cy="1691.2" rx="29.2" ry="27.4" filter="url(#mB)"/><ellipse cx="1687.6" cy="1694.8" rx="23.7" ry="21.9" filter="url(#mR)"/><ellipse cx="1720.5" cy="1731.3" rx="27.4" ry="27.4" filter="url(#mB)"/><ellipse cx="1787.9" cy="1718.5" rx="27.4" ry="29.2" filter="url(#mR)"/><ellipse cx="1846.3" cy="1698.5" rx="14.6" ry="14.6" filter="url(#mB)"/><ellipse cx="1815.3" cy="1764.1" rx="20.1" ry="25.5" filter="url(#mB)"/><ellipse cx="1642.1" cy="1782.3" rx="36.5" ry="32.8" filter="url(#mR)"/><ellipse cx="1645.7" cy="1782.3" rx="36.5" ry="32.8" filter="url(#mB)"/><ellipse cx="1724.1" cy="1791.5" rx="31" ry="31" filter="url(#mR)"/><ellipse cx="1698.6" cy="1782.3" rx="27.4" ry="36.5" filter="url(#mB)"/><ellipse cx="1583.7" cy="1833.4" rx="20.1" ry="18.2" filter="url(#mB)"/><ellipse cx="1578.2" cy="1809.7" rx="16.4" ry="20.1" filter="url(#mR)"/><ellipse cx="1705.9" cy="1868.1" rx="21.9" ry="18.2" filter="url(#mB)"/><ellipse cx="1733.2" cy="1809.7" rx="21.9" ry="18.2" filter="url(#mR)"/><ellipse cx="1620.2" cy="1641.9" rx="21.9" ry="20.1" filter="url(#mR)"/><ellipse cx="1787.9" cy="1782.3" rx="29.2" ry="29.2" filter="url(#mB)"/><ellipse cx="1760.6" cy="1691.2" rx="27.4" ry="27.4" filter="url(#mR)"/><path d="M1605.6,1654.7C1618.7,1640.4 1646.6,1643.2 1669.4,1641.9C1692.2,1640.7 1719.6,1644.4 1742.3,1647.4C1765.1,1650.4 1791,1649.2 1806.2,1660.2C1821.4,1671.1 1836.6,1692.7 1833.5,1713.1C1830.5,1733.4 1807.7,1763.2 1787.9,1782.3C1768.2,1801.5 1737.8,1820.3 1715,1827.9C1692.2,1835.5 1670.9,1832.5 1651.2,1827.9C1631.4,1823.4 1606.5,1817.3 1596.5,1800.6C1586.4,1783.9 1589.5,1752 1591,1727.6C1592.5,1703.3 1592.5,1669 1605.6,1654.7Z" fill="#3a2a80" fill-opacity="0.16" filter="url(#ub)"/><path d="M1645.7,1658.4 L1612.9,1665.6" stroke="#74740a" stroke-width="7.5" stroke-linecap="round"/><path d="M1645.7,1658.4 L1612.9,1665.6" stroke="#e2e21a" stroke-width="4.1" stroke-linecap="round"/><path d="M1645.7,1658.4 L1705.9,1645.6" stroke="#74740a" stroke-width="7.5" stroke-linecap="round"/><path d="M1645.7,1658.4 L1705.9,1645.6" stroke="#e2e21a" stroke-width="4.1" stroke-linecap="round"/><path d="M1645.7,1658.4 L1671.2,1736.8" stroke="#74740a" stroke-width="7.5" stroke-linecap="round"/><path d="M1645.7,1658.4 L1671.2,1736.8" stroke="#e2e21a" stroke-width="4.1" stroke-linecap="round"/><path d="M1645.7,1658.4 L1603.8,1742.2" stroke="#74740a" stroke-width="7.5" stroke-linecap="round"/><path d="M1645.7,1658.4 L1603.8,1742.2" stroke="#e2e21a" stroke-width="4.1" stroke-linecap="round"/><path d="M1612.9,1665.6 L1603.8,1742.2" stroke="#74740a" stroke-width="7.5" stroke-linecap="round"/><path d="M1612.9,1665.6 L1603.8,1742.2" stroke="#e2e21a" stroke-width="4.1" stroke-linecap="round"/><path d="M1705.9,1645.6 L1746,1676.6" stroke="#74740a" stroke-width="7.5" stroke-linecap="round"/><path d="M1705.9,1645.6 L1746,1676.6" stroke="#e2e21a" stroke-width="4.1" stroke-linecap="round"/><path d="M1705.9,1645.6 L1798.9,1658.4" stroke="#74740a" stroke-width="7.5" stroke-linecap="round"/><path d="M1705.9,1645.6 L1798.9,1658.4" stroke="#e2e21a" stroke-width="4.1" stroke-linecap="round"/><path d="M1746,1676.6 L1798.9,1658.4" stroke="#74740a" stroke-width="7.5" stroke-linecap="round"/><path d="M1746,1676.6 L1798.9,1658.4" stroke="#e2e21a" stroke-width="4.1" stroke-linecap="round"/><path d="M1746,1676.6 L1839,1716.7" stroke="#74740a" stroke-width="7.5" stroke-linecap="round"/><path d="M1746,1676.6 L1839,1716.7" stroke="#e2e21a" stroke-width="4.1" stroke-linecap="round"/><path d="M1746,1676.6 L1671.2,1736.8" stroke="#74740a" stroke-width="7.5" stroke-linecap="round"/><path d="M1746,1676.6 L1671.2,1736.8" stroke="#e2e21a" stroke-width="4.1" stroke-linecap="round"/><path d="M1746,1676.6 L1771.5,1775.1" stroke="#74740a" stroke-width="7.5" stroke-linecap="round"/><path d="M1746,1676.6 L1771.5,1775.1" stroke="#e2e21a" stroke-width="4.1" stroke-linecap="round"/><path d="M1798.9,1658.4 L1839,1716.7" stroke="#74740a" stroke-width="7.5" stroke-linecap="round"/><path d="M1798.9,1658.4 L1839,1716.7" stroke="#e2e21a" stroke-width="4.1" stroke-linecap="round"/><path d="M1839,1716.7 L1771.5,1775.1" stroke="#74740a" stroke-width="7.5" stroke-linecap="round"/><path d="M1839,1716.7 L1771.5,1775.1" stroke="#e2e21a" stroke-width="4.1" stroke-linecap="round"/><path d="M1603.8,1742.2 L1671.2,1736.8" stroke="#74740a" stroke-width="7.5" stroke-linecap="round"/><path d="M1603.8,1742.2 L1671.2,1736.8" stroke="#e2e21a" stroke-width="4.1" stroke-linecap="round"/><path d="M1603.8,1742.2 L1598.3,1813.3" stroke="#74740a" stroke-width="7.5" stroke-linecap="round"/><path d="M1603.8,1742.2 L1598.3,1813.3" stroke="#e2e21a" stroke-width="4.1" stroke-linecap="round"/><path d="M1671.2,1736.8 L1771.5,1775.1" stroke="#74740a" stroke-width="7.5" stroke-linecap="round"/><path d="M1671.2,1736.8 L1771.5,1775.1" stroke="#e2e21a" stroke-width="4.1" stroke-linecap="round"/><path d="M1671.2,1736.8 L1698.6,1842.5" stroke="#74740a" stroke-width="7.5" stroke-linecap="round"/><path d="M1671.2,1736.8 L1698.6,1842.5" stroke="#e2e21a" stroke-width="4.1" stroke-linecap="round"/><path d="M1671.2,1736.8 L1598.3,1813.3" stroke="#74740a" stroke-width="7.5" stroke-linecap="round"/><path d="M1671.2,1736.8 L1598.3,1813.3" stroke="#e2e21a" stroke-width="4.1" stroke-linecap="round"/><path d="M1771.5,1775.1 L1698.6,1842.5" stroke="#74740a" stroke-width="7.5" stroke-linecap="round"/><path d="M1771.5,1775.1 L1698.6,1842.5" stroke="#e2e21a" stroke-width="4.1" stroke-linecap="round"/><path d="M1598.3,1813.3 L1698.6,1842.5" stroke="#74740a" stroke-width="7.5" stroke-linecap="round"/><path d="M1598.3,1813.3 L1698.6,1842.5" stroke="#e2e21a" stroke-width="4.1" stroke-linecap="round"/><path d="M1645.7,1658.4 L1746,1676.6" stroke="#74740a" stroke-width="7.5" stroke-linecap="round"/><path d="M1645.7,1658.4 L1746,1676.6" stroke="#e2e21a" stroke-width="4.1" stroke-linecap="round"/><path d="M1705.9,1645.6 L1671.2,1736.8" stroke="#74740a" stroke-width="7.5" stroke-linecap="round"/><path d="M1705.9,1645.6 L1671.2,1736.8" stroke="#e2e21a" stroke-width="4.1" stroke-linecap="round"/><path d="M1603.8,1742.2 L1698.6,1842.5" stroke="#74740a" stroke-width="7.5" stroke-linecap="round"/><path d="M1603.8,1742.2 L1698.6,1842.5" stroke="#e2e21a" stroke-width="4.1" stroke-linecap="round"/><circle cx="1612.9" cy="1665.6" r="20.1" fill="url(#gau)"/><clipPath id="sc27"><circle cx="1612.9" cy="1665.6" r="20.1"/></clipPath><g clip-path="url(#sc27)"><circle cx="1612.9" cy="1665.6" r="18.1" fill="#ff4800" fill-opacity="0.3" filter="url(#pb)"/><circle cx="1612.9" cy="1665.6" r="19.9" filter="url(#dR)"/></g><circle cx="1705.9" cy="1645.6" r="20.1" fill="url(#gau)"/><clipPath id="sc28"><circle cx="1705.9" cy="1645.6" r="20.1"/></clipPath><g clip-path="url(#sc28)"><circle cx="1705.9" cy="1643.6" r="16" fill="#ff4800" fill-opacity="0.3" filter="url(#pb)"/><circle cx="1705.9" cy="1643.6" r="17.7" filter="url(#dR)"/></g><circle cx="1798.9" cy="1658.4" r="20.1" fill="url(#gau)"/><clipPath id="sc29"><circle cx="1798.9" cy="1658.4" r="20.1"/></clipPath><g clip-path="url(#sc29)"><circle cx="1782.8" cy="1658.4" r="12" fill="#1c1cc8" fill-opacity="0.4" filter="url(#pb)"/><circle cx="1782.8" cy="1658.4" r="13.2" filter="url(#dB)"/><circle cx="1806.9" cy="1652.3" r="7" fill="#ff4800" fill-opacity="0.2" filter="url(#pb)"/><circle cx="1806.9" cy="1652.3" r="7.7" filter="url(#dR)"/></g><circle cx="1645.7" cy="1658.4" r="21" fill="url(#gau)"/><clipPath id="sc30"><circle cx="1645.7" cy="1658.4" r="21"/></clipPath><g clip-path="url(#sc30)"><circle cx="1633.1" cy="1662.5" r="11.5" fill="#ff4800" fill-opacity="0.3" filter="url(#pb)"/><circle cx="1633.1" cy="1662.5" r="12.7" filter="url(#dR)"/></g><circle cx="1746" cy="1676.6" r="23.7" fill="url(#gau)"/><clipPath id="sc31"><circle cx="1746" cy="1676.6" r="23.7"/></clipPath><g clip-path="url(#sc31)"><circle cx="1729.4" cy="1681.3" r="14.2" fill="#1c1cc8" fill-opacity="0.4" filter="url(#pb)"/><circle cx="1729.4" cy="1681.3" r="15.6" filter="url(#dB)"/><circle cx="1757.8" cy="1679" r="10.7" fill="#ff4800" fill-opacity="0.3" filter="url(#pb)"/><circle cx="1757.8" cy="1679" r="11.7" filter="url(#dR)"/></g><circle cx="1603.8" cy="1742.2" r="22.8" fill="url(#gau)"/><clipPath id="sc32"><circle cx="1603.8" cy="1742.2" r="22.8"/></clipPath><g clip-path="url(#sc32)"><circle cx="1596.9" cy="1749.1" r="16" fill="#1c1cc8" fill-opacity="0.2" filter="url(#pb)"/><circle cx="1596.9" cy="1749.1" r="17.6" filter="url(#dB)"/></g><circle cx="1598.3" cy="1813.3" r="23.7" fill="url(#gau)"/><clipPath id="sc33"><circle cx="1598.3" cy="1813.3" r="23.7"/></clipPath><g clip-path="url(#sc33)"><circle cx="1586.4" cy="1815.7" r="14.2" fill="#ff4800" fill-opacity="0.3" filter="url(#pb)"/><circle cx="1586.4" cy="1815.7" r="15.6" filter="url(#dR)"/></g><circle cx="1671.2" cy="1736.8" r="24.6" fill="url(#gau)"/><clipPath id="sc34"><circle cx="1671.2" cy="1736.8" r="24.6"/></clipPath><g clip-path="url(#sc34)"><circle cx="1673.7" cy="1734.3" r="18.5" fill="#ff4800" fill-opacity="0.3" filter="url(#pb)"/><circle cx="1673.7" cy="1734.3" r="20.3" filter="url(#dR)"/></g><circle cx="1771.5" cy="1775.1" r="25.5" fill="url(#gau)"/><clipPath id="sc35"><circle cx="1771.5" cy="1775.1" r="25.5"/></clipPath><g clip-path="url(#sc35)"><circle cx="1756.2" cy="1780.2" r="15.3" fill="#1c1cc8" fill-opacity="0.3" filter="url(#pb)"/><circle cx="1756.2" cy="1780.2" r="16.8" filter="url(#dB)"/><circle cx="1781.7" cy="1767.4" r="10.2" fill="#ff4800" fill-opacity="0.3" filter="url(#pb)"/><circle cx="1781.7" cy="1767.4" r="11.2" filter="url(#dR)"/></g><circle cx="1698.6" cy="1842.5" r="26.4" fill="url(#gau)"/><clipPath id="sc36"><circle cx="1698.6" cy="1842.5" r="26.4"/></clipPath><g clip-path="url(#sc36)"><circle cx="1698.6" cy="1847.8" r="17.2" fill="#ff4800" fill-opacity="0.3" filter="url(#pb)"/><circle cx="1698.6" cy="1847.8" r="18.9" filter="url(#dR)"/></g><circle cx="1839" cy="1716.7" r="22.8" fill="url(#gau)"/><clipPath id="sc37"><circle cx="1839" cy="1716.7" r="22.8"/></clipPath><g clip-path="url(#sc37)"><circle cx="1839" cy="1732.7" r="11.4" fill="#ff4800" fill-opacity="0.3" filter="url(#pb)"/><circle cx="1839" cy="1732.7" r="12.5" filter="url(#dR)"/></g><ellipse cx="1709.5" cy="1713.1" rx="27.4" ry="23.7" filter="url(#mBl)"/><ellipse cx="1662.1" cy="1791.5" rx="27.4" ry="23.7" filter="url(#mRl)"/><ellipse cx="1724.1" cy="1755" rx="18.2" ry="18.2" filter="url(#mRl)"/><circle cx="1953.7" cy="1723.1" r="23" fill="url(#gar)"/><clipPath id="sc38"><circle cx="1953.7" cy="1723.1" r="23"/></clipPath><g clip-path="url(#sc38)"><circle cx="1931.8" cy="1723.1" r="20.7" fill="#180404" fill-opacity="0.9" filter="url(#pb)"/><circle cx="1937.6" cy="1723.1" r="11.5" fill="#e01000" fill-opacity="0.35" filter="url(#pb)"/></g><path d="M1848.9,1737.3C1851.2,1731.6 1870.1,1721.2 1880,1711.8C1889.9,1702.3 1899.8,1685.8 1908.3,1680.6C1916.8,1675.4 1925.3,1676.8 1931,1680.6C1936.7,1684.4 1941.4,1696.2 1942.3,1703.3C1943.3,1710.4 1936.2,1715.6 1936.7,1723.1C1937.1,1730.7 1944.7,1741.5 1945.2,1748.6C1945.6,1755.7 1943.7,1761.8 1939.5,1765.6C1935.2,1769.4 1927.7,1772.7 1919.7,1771.3C1911.6,1769.8 1900.3,1761.3 1891.4,1757.1C1882.4,1752.8 1872.9,1749.1 1865.9,1745.8C1858.8,1742.5 1846.5,1742.9 1848.9,1737.3Z" filter="url(#mR)"/><ellipse cx="1988.2" cy="1723.1" rx="35.4" ry="46.7" filter="url(#mB)"/><rect x="1580" y="1917" width="422" height="263" fill="#fefefe"/><ellipse cx="1848.9" cy="1998.9" rx="12.7" ry="12.7" filter="url(#mBl)"/><ellipse cx="1850.3" cy="2038.6" rx="11.3" ry="11.9" filter="url(#mRl)"/><ellipse cx="1812.1" cy="1996.1" rx="7.1" ry="8.5" filter="url(#mRl)"/><ellipse cx="1704.4" cy="2042.8" rx="7.1" ry="17" filter="url(#mRl)"/><ellipse cx="1649.2" cy="2032.9" rx="5.1" ry="7.1" filter="url(#mRl)"/><path d="M1613.8,1967.8 L1650.6,1953.6" stroke="#74740a" stroke-width="9" stroke-linecap="round"/><path d="M1613.8,1967.8 L1650.6,1953.6" stroke="#e2e21a" stroke-width="5" stroke-linecap="round"/><path d="M1650.6,1953.6 L1703,1945.1" stroke="#74740a" stroke-width="9" stroke-linecap="round"/><path d="M1650.6,1953.6 L1703,1945.1" stroke="#e2e21a" stroke-width="5" stroke-linecap="round"/><path d="M1703,1945.1 L1789.4,1957.9" stroke="#74740a" stroke-width="9" stroke-linecap="round"/><path d="M1703,1945.1 L1789.4,1957.9" stroke="#e2e21a" stroke-width="5" stroke-linecap="round"/><path d="M1703,1945.1 L1744.1,1974.9" stroke="#74740a" stroke-width="9" stroke-linecap="round"/><path d="M1703,1945.1 L1744.1,1974.9" stroke="#e2e21a" stroke-width="5" stroke-linecap="round"/><path d="M1650.6,1953.6 L1744.1,1974.9" stroke="#74740a" stroke-width="9" stroke-linecap="round"/><path d="M1650.6,1953.6 L1744.1,1974.9" stroke="#e2e21a" stroke-width="5" stroke-linecap="round"/><path d="M1744.1,1974.9 L1789.4,1957.9" stroke="#74740a" stroke-width="9" stroke-linecap="round"/><path d="M1744.1,1974.9 L1789.4,1957.9" stroke="#e2e21a" stroke-width="5" stroke-linecap="round"/><path d="M1789.4,1957.9 L1831.9,2017.4" stroke="#74740a" stroke-width="9" stroke-linecap="round"/><path d="M1789.4,1957.9 L1831.9,2017.4" stroke="#e2e21a" stroke-width="5" stroke-linecap="round"/><path d="M1744.1,1974.9 L1831.9,2017.4" stroke="#74740a" stroke-width="9" stroke-linecap="round"/><path d="M1744.1,1974.9 L1831.9,2017.4" stroke="#e2e21a" stroke-width="5" stroke-linecap="round"/><path d="M1613.8,1967.8 L1608.1,2044.3" stroke="#74740a" stroke-width="9" stroke-linecap="round"/><path d="M1613.8,1967.8 L1608.1,2044.3" stroke="#e2e21a" stroke-width="5" stroke-linecap="round"/><path d="M1650.6,1953.6 L1608.1,2044.3" stroke="#74740a" stroke-width="9" stroke-linecap="round"/><path d="M1650.6,1953.6 L1608.1,2044.3" stroke="#e2e21a" stroke-width="5" stroke-linecap="round"/><path d="M1650.6,1953.6 L1674.7,2037.2" stroke="#74740a" stroke-width="9" stroke-linecap="round"/><path d="M1650.6,1953.6 L1674.7,2037.2" stroke="#e2e21a" stroke-width="5" stroke-linecap="round"/><path d="M1744.1,1974.9 L1674.7,2037.2" stroke="#74740a" stroke-width="9" stroke-linecap="round"/><path d="M1744.1,1974.9 L1674.7,2037.2" stroke="#e2e21a" stroke-width="5" stroke-linecap="round"/><path d="M1613.8,1967.8 L1674.7,2037.2" stroke="#74740a" stroke-width="9" stroke-linecap="round"/><path d="M1613.8,1967.8 L1674.7,2037.2" stroke="#e2e21a" stroke-width="5" stroke-linecap="round"/><path d="M1608.1,2044.3 L1674.7,2037.2" stroke="#74740a" stroke-width="9" stroke-linecap="round"/><path d="M1608.1,2044.3 L1674.7,2037.2" stroke="#e2e21a" stroke-width="5" stroke-linecap="round"/><path d="M1608.1,2044.3 L1606.7,2117.9" stroke="#74740a" stroke-width="9" stroke-linecap="round"/><path d="M1608.1,2044.3 L1606.7,2117.9" stroke="#e2e21a" stroke-width="5" stroke-linecap="round"/><path d="M1674.7,2037.2 L1606.7,2117.9" stroke="#74740a" stroke-width="9" stroke-linecap="round"/><path d="M1674.7,2037.2 L1606.7,2117.9" stroke="#e2e21a" stroke-width="5" stroke-linecap="round"/><path d="M1674.7,2037.2 L1700.2,2149" stroke="#74740a" stroke-width="9" stroke-linecap="round"/><path d="M1674.7,2037.2 L1700.2,2149" stroke="#e2e21a" stroke-width="5" stroke-linecap="round"/><path d="M1674.7,2037.2 L1769.6,2078.2" stroke="#74740a" stroke-width="9" stroke-linecap="round"/><path d="M1674.7,2037.2 L1769.6,2078.2" stroke="#e2e21a" stroke-width="5" stroke-linecap="round"/><path d="M1744.1,1974.9 L1769.6,2078.2" stroke="#74740a" stroke-width="9" stroke-linecap="round"/><path d="M1744.1,1974.9 L1769.6,2078.2" stroke="#e2e21a" stroke-width="5" stroke-linecap="round"/><path d="M1831.9,2017.4 L1769.6,2078.2" stroke="#74740a" stroke-width="9" stroke-linecap="round"/><path d="M1831.9,2017.4 L1769.6,2078.2" stroke="#e2e21a" stroke-width="5" stroke-linecap="round"/><path d="M1769.6,2078.2 L1700.2,2149" stroke="#74740a" stroke-width="9" stroke-linecap="round"/><path d="M1769.6,2078.2 L1700.2,2149" stroke="#e2e21a" stroke-width="5" stroke-linecap="round"/><path d="M1606.7,2117.9 L1700.2,2149" stroke="#74740a" stroke-width="9" stroke-linecap="round"/><path d="M1606.7,2117.9 L1700.2,2149" stroke="#e2e21a" stroke-width="5" stroke-linecap="round"/><path d="M1688.9,2103.7 L1606.7,2117.9" stroke="#74740a" stroke-width="9" stroke-linecap="round"/><path d="M1688.9,2103.7 L1606.7,2117.9" stroke="#e2e21a" stroke-width="5" stroke-linecap="round"/><path d="M1688.9,2103.7 L1700.2,2149" stroke="#74740a" stroke-width="9" stroke-linecap="round"/><path d="M1688.9,2103.7 L1700.2,2149" stroke="#e2e21a" stroke-width="5" stroke-linecap="round"/><path d="M1688.9,2103.7 L1769.6,2078.2" stroke="#74740a" stroke-width="9" stroke-linecap="round"/><path d="M1688.9,2103.7 L1769.6,2078.2" stroke="#e2e21a" stroke-width="5" stroke-linecap="round"/><path d="M1752.6,2047.1 L1831.9,2017.4" stroke="#74740a" stroke-width="9" stroke-linecap="round"/><path d="M1752.6,2047.1 L1831.9,2017.4" stroke="#e2e21a" stroke-width="5" stroke-linecap="round"/><path d="M1752.6,2047.1 L1674.7,2037.2" stroke="#74740a" stroke-width="9" stroke-linecap="round"/><path d="M1752.6,2047.1 L1674.7,2037.2" stroke="#e2e21a" stroke-width="5" stroke-linecap="round"/><path d="M1608.1,2044.3 L1688.9,2103.7" stroke="#74740a" stroke-width="9" stroke-linecap="round"/><path d="M1608.1,2044.3 L1688.9,2103.7" stroke="#e2e21a" stroke-width="5" stroke-linecap="round"/><path d="M1744.1,1974.9 L1700.2,2149" stroke="#74740a" stroke-width="9" stroke-linecap="round"/><path d="M1744.1,1974.9 L1700.2,2149" stroke="#e2e21a" stroke-width="5" stroke-linecap="round"/><path d="M1677.5,1976.3 L1674.7,2037.2" stroke="#74740a" stroke-width="9" stroke-linecap="round"/><path d="M1677.5,1976.3 L1674.7,2037.2" stroke="#e2e21a" stroke-width="5" stroke-linecap="round"/><path d="M1741.3,2004.6 L1744.1,1974.9" stroke="#74740a" stroke-width="9" stroke-linecap="round"/><path d="M1741.3,2004.6 L1744.1,1974.9" stroke="#e2e21a" stroke-width="5" stroke-linecap="round"/><path d="M1789.4,1957.9 L1752.6,2047.1" stroke="#74740a" stroke-width="9" stroke-linecap="round"/><path d="M1789.4,1957.9 L1752.6,2047.1" stroke="#e2e21a" stroke-width="5" stroke-linecap="round"/><circle cx="1677.5" cy="1976.3" r="15.6" fill="url(#gaud)"/><circle cx="1741.3" cy="2004.6" r="17.6" fill="url(#gaud)"/><clipPath id="sc39"><circle cx="1741.3" cy="2004.6" r="17.6"/></clipPath><g clip-path="url(#sc39)"><circle cx="1741.3" cy="2008.1" r="10.5" fill="#e01000" fill-opacity="0.8" filter="url(#pb)"/></g><circle cx="1752.6" cy="2047.1" r="19.8" fill="url(#gaud)"/><circle cx="1688.9" cy="2103.7" r="22.7" fill="url(#gau)"/><circle cx="1613.8" cy="1967.8" r="22.1" fill="url(#gau)"/><circle cx="1703" cy="1945.1" r="23.2" fill="url(#gau)"/><circle cx="1789.4" cy="1957.9" r="23.2" fill="url(#gau)"/><circle cx="1650.6" cy="1953.6" r="24.9" fill="url(#gau)"/><circle cx="1608.1" cy="2044.3" r="24.1" fill="url(#gau)"/><circle cx="1744.1" cy="1974.9" r="26.1" fill="url(#gau)"/><circle cx="1831.9" cy="2017.4" r="24.9" fill="url(#gau)"/><circle cx="1674.7" cy="2037.2" r="26.9" fill="url(#gau)"/><circle cx="1606.7" cy="2117.9" r="25.5" fill="url(#gau)"/><circle cx="1769.6" cy="2078.2" r="26.9" fill="url(#gau)"/><circle cx="1700.2" cy="2149" r="27.5" fill="url(#gau)"/><circle cx="1942.3" cy="2024.4" r="23" fill="url(#gar)"/><clipPath id="sc40"><circle cx="1942.3" cy="2024.4" r="23"/></clipPath><g clip-path="url(#sc40)"><circle cx="1942.3" cy="2047.4" r="17.2" fill="#180404" fill-opacity="0.8" filter="url(#pb)"/><circle cx="1942.3" cy="2045.1" r="11.5" fill="#e01000" fill-opacity="0.5" filter="url(#pb)"/></g><path d="M1880,1998.9C1880,1991.9 1881.4,1981.5 1885.7,1973.5C1889.9,1965.4 1897,1956.5 1905.5,1950.8C1914,1945.1 1926.3,1940.7 1936.7,1939.5C1947,1938.3 1958.8,1939.5 1967.8,1943.7C1976.8,1948 1984.8,1956.7 1990.5,1965C1996.1,1973.2 2000.6,1985.3 2001.8,1993.3C2003,2001.3 2001.3,2007.4 1997.6,2013.1C1993.8,2018.8 1986,2025.9 1979.1,2027.3C1972.3,2028.7 1965,2022.5 1956.5,2021.6C1948,2020.7 1937.6,2021.1 1928.2,2021.6C1918.7,2022.1 1906.9,2025.4 1899.8,2024.4C1892.8,2023.5 1889,2020.2 1885.7,2015.9C1882.4,2011.7 1880,2006 1880,1998.9Z" filter="url(#mB)"/><path d="M1875.8,2049.9C1875.3,2041.4 1877.9,2032.5 1882.9,2027.3C1887.8,2022.1 1897,2018.8 1905.5,2018.8C1914,2018.8 1924.4,2027.3 1933.8,2027.3C1943.3,2027.3 1953.7,2019.7 1962.2,2018.8C1970.6,2017.8 1979.1,2017.4 1984.8,2021.6C1990.5,2025.9 1995.2,2036.2 1996.1,2044.3C1997.1,2052.3 1994.7,2061.7 1990.5,2069.7C1986.2,2077.8 1979.1,2086.7 1970.6,2092.4C1962.2,2098.1 1949.9,2102.8 1939.5,2103.7C1929.1,2104.7 1917.3,2102.3 1908.3,2098.1C1899.4,2093.8 1891.1,2086.3 1885.7,2078.2C1880.3,2070.2 1876.2,2058.4 1875.8,2049.9Z" filter="url(#mR)"/></g>
</g>
</svg></body></html>
